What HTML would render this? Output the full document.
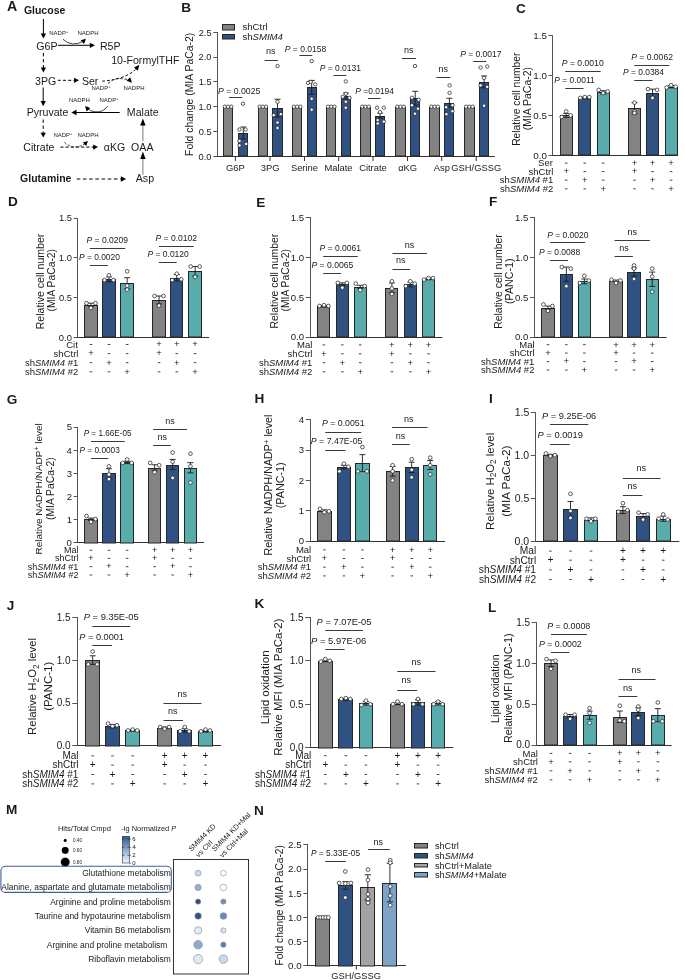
<!DOCTYPE html>
<html><head><meta charset="utf-8"><style>
html,body{margin:0;padding:0;background:#fff;overflow:hidden;}
svg{display:block;will-change:transform;}
text{font-family:'Liberation Sans', sans-serif;fill:#1a1a1a;}
</style></head><body>
<svg width="685" height="980" viewBox="0 0 685 980">
<rect width="685" height="980" fill="#fff"/>
<text x="516.06" y="12.69" font-size="13.60" font-weight="bold">C</text>
<line x1="552.50" y1="35.00" x2="552.50" y2="156.00" stroke="#555" stroke-width="1.0"/>
<line x1="552.00" y1="155.50" x2="678.00" y2="155.50" stroke="#333" stroke-width="1.0"/>
<line x1="548.50" y1="155.50" x2="552.50" y2="155.50" stroke="#555" stroke-width="1.0"/>
<text x="533.22" y="158.58" font-size="9.80">0.0</text>
<line x1="548.50" y1="115.50" x2="552.50" y2="115.50" stroke="#555" stroke-width="1.0"/>
<text x="533.27" y="118.78" font-size="9.80">0.5</text>
<line x1="548.50" y1="75.50" x2="552.50" y2="75.50" stroke="#555" stroke-width="1.0"/>
<text x="533.22" y="78.98" font-size="9.80">1.0</text>
<line x1="548.50" y1="35.50" x2="552.50" y2="35.50" stroke="#555" stroke-width="1.0"/>
<text x="533.27" y="39.13" font-size="9.80">1.5</text>
<rect x="560.50" y="115.50" width="12.00" height="39.50" fill="#838383" stroke="#262626" stroke-width="1.0"/>
<rect x="578.50" y="98.50" width="12.00" height="56.50" fill="#2f5282" stroke="#262626" stroke-width="1.0"/>
<rect x="597.50" y="92.50" width="12.00" height="62.50" fill="#58acab" stroke="#262626" stroke-width="1.0"/>
<rect x="628.50" y="108.50" width="12.00" height="46.50" fill="#838383" stroke="#262626" stroke-width="1.0"/>
<rect x="646.50" y="93.50" width="12.00" height="61.50" fill="#2f5282" stroke="#262626" stroke-width="1.0"/>
<rect x="665.50" y="87.50" width="12.00" height="67.50" fill="#58acab" stroke="#262626" stroke-width="1.0"/>
<line x1="566.20" y1="113.41" x2="566.20" y2="117.39" stroke="#1a1a1a" stroke-width="0.9"/>
<line x1="563.20" y1="113.41" x2="569.20" y2="113.41" stroke="#1a1a1a" stroke-width="0.9"/>
<line x1="563.20" y1="117.39" x2="569.20" y2="117.39" stroke="#1a1a1a" stroke-width="0.9"/>
<circle cx="561.70" cy="116.99" r="1.85" fill="#fff" stroke="#262626" stroke-width="0.75"/>
<circle cx="566.20" cy="111.42" r="1.85" fill="#fff" stroke="#262626" stroke-width="0.75"/>
<circle cx="570.70" cy="115.40" r="1.85" fill="#fff" stroke="#262626" stroke-width="0.75"/>
<line x1="584.80" y1="97.09" x2="584.80" y2="98.68" stroke="#1a1a1a" stroke-width="0.9"/>
<line x1="581.80" y1="97.09" x2="587.80" y2="97.09" stroke="#1a1a1a" stroke-width="0.9"/>
<line x1="581.80" y1="98.68" x2="587.80" y2="98.68" stroke="#1a1a1a" stroke-width="0.9"/>
<circle cx="580.30" cy="97.89" r="1.85" fill="#fff" stroke="#262626" stroke-width="0.75"/>
<circle cx="584.80" cy="97.09" r="1.85" fill="#fff" stroke="#262626" stroke-width="0.75"/>
<circle cx="589.30" cy="97.09" r="1.85" fill="#fff" stroke="#262626" stroke-width="0.75"/>
<line x1="603.20" y1="90.72" x2="603.20" y2="93.91" stroke="#1a1a1a" stroke-width="0.9"/>
<line x1="600.20" y1="90.72" x2="606.20" y2="90.72" stroke="#1a1a1a" stroke-width="0.9"/>
<line x1="600.20" y1="93.91" x2="606.20" y2="93.91" stroke="#1a1a1a" stroke-width="0.9"/>
<circle cx="598.70" cy="89.93" r="1.85" fill="#fff" stroke="#262626" stroke-width="0.75"/>
<circle cx="603.20" cy="93.11" r="1.85" fill="#fff" stroke="#262626" stroke-width="0.75"/>
<circle cx="607.70" cy="91.52" r="1.85" fill="#fff" stroke="#262626" stroke-width="0.75"/>
<line x1="634.50" y1="102.66" x2="634.50" y2="113.81" stroke="#1a1a1a" stroke-width="0.9"/>
<line x1="631.50" y1="102.66" x2="637.50" y2="102.66" stroke="#1a1a1a" stroke-width="0.9"/>
<line x1="631.50" y1="113.81" x2="637.50" y2="113.81" stroke="#1a1a1a" stroke-width="0.9"/>
<circle cx="634.50" cy="102.66" r="1.85" fill="#fff" stroke="#262626" stroke-width="0.75"/>
<circle cx="634.50" cy="111.42" r="1.85" fill="#fff" stroke="#262626" stroke-width="0.75"/>
<circle cx="634.50" cy="113.01" r="1.85" fill="#fff" stroke="#262626" stroke-width="0.75"/>
<line x1="652.50" y1="89.13" x2="652.50" y2="97.09" stroke="#1a1a1a" stroke-width="0.9"/>
<line x1="649.50" y1="89.13" x2="655.50" y2="89.13" stroke="#1a1a1a" stroke-width="0.9"/>
<line x1="649.50" y1="97.09" x2="655.50" y2="97.09" stroke="#1a1a1a" stroke-width="0.9"/>
<circle cx="648.00" cy="89.13" r="1.85" fill="#fff" stroke="#262626" stroke-width="0.75"/>
<circle cx="652.50" cy="97.89" r="1.85" fill="#fff" stroke="#262626" stroke-width="0.75"/>
<circle cx="657.00" cy="89.93" r="1.85" fill="#fff" stroke="#262626" stroke-width="0.75"/>
<line x1="671.10" y1="85.55" x2="671.10" y2="87.94" stroke="#1a1a1a" stroke-width="0.9"/>
<line x1="668.10" y1="85.55" x2="674.10" y2="85.55" stroke="#1a1a1a" stroke-width="0.9"/>
<line x1="668.10" y1="87.94" x2="674.10" y2="87.94" stroke="#1a1a1a" stroke-width="0.9"/>
<circle cx="666.60" cy="87.54" r="1.85" fill="#fff" stroke="#262626" stroke-width="0.75"/>
<circle cx="671.10" cy="85.15" r="1.85" fill="#fff" stroke="#262626" stroke-width="0.75"/>
<circle cx="675.60" cy="86.74" r="1.85" fill="#fff" stroke="#262626" stroke-width="0.75"/>
<text x="561.74" y="65.78" font-size="8.65"><tspan font-style="italic">P</tspan> = 0.0010</text>
<line x1="565.30" y1="71.50" x2="600.60" y2="71.50" stroke="#3a3a3a" stroke-width="1.0"/>
<text x="554.35" y="82.50" font-size="8.42"><tspan font-style="italic">P</tspan> = 0.0011</text>
<line x1="565.30" y1="88.50" x2="583.50" y2="88.50" stroke="#3a3a3a" stroke-width="1.0"/>
<text x="631.14" y="59.77" font-size="8.61"><tspan font-style="italic">P</tspan> = 0.0062</text>
<line x1="634.30" y1="65.50" x2="669.40" y2="65.50" stroke="#3a3a3a" stroke-width="1.0"/>
<text x="622.95" y="75.32" font-size="8.45"><tspan font-style="italic">P</tspan> = 0.0384</text>
<line x1="634.30" y1="80.50" x2="652.40" y2="80.50" stroke="#3a3a3a" stroke-width="1.0"/>
<text x="520.18" y="145.82" font-size="10.30" transform="rotate(-90 520.18 145.82)">Relative cell number</text>
<text x="531.19" y="130.33" font-size="10.46" transform="rotate(-90 531.19 130.33)">(MIA PaCa-2)</text>
<text x="538.07" y="166.08" font-size="9.50">Ser</text>
<line x1="564.90" y1="163.10" x2="567.50" y2="163.10" stroke="#333" stroke-width="0.9"/>
<line x1="583.50" y1="163.10" x2="586.10" y2="163.10" stroke="#333" stroke-width="0.9"/>
<line x1="601.90" y1="163.10" x2="604.50" y2="163.10" stroke="#333" stroke-width="0.9"/>
<text x="631.72" y="165.98" font-size="9.50">+</text>
<text x="649.72" y="165.98" font-size="9.50">+</text>
<text x="668.32" y="165.98" font-size="9.50">+</text>
<text x="528.52" y="174.70" font-size="9.50">shCtrl</text>
<text x="563.42" y="174.48" font-size="9.50">+</text>
<line x1="583.50" y1="171.60" x2="586.10" y2="171.60" stroke="#333" stroke-width="0.9"/>
<line x1="601.90" y1="171.60" x2="604.50" y2="171.60" stroke="#333" stroke-width="0.9"/>
<text x="631.72" y="174.48" font-size="9.50">+</text>
<line x1="651.20" y1="171.60" x2="653.80" y2="171.60" stroke="#333" stroke-width="0.9"/>
<line x1="669.80" y1="171.60" x2="672.40" y2="171.60" stroke="#333" stroke-width="0.9"/>
<text x="499.83" y="183.30" font-size="9.50">sh<tspan font-style="italic">SMIM4</tspan> #1</text>
<line x1="564.90" y1="180.20" x2="567.50" y2="180.20" stroke="#333" stroke-width="0.9"/>
<text x="582.02" y="183.08" font-size="9.50">+</text>
<line x1="601.90" y1="180.20" x2="604.50" y2="180.20" stroke="#333" stroke-width="0.9"/>
<line x1="633.20" y1="180.20" x2="635.80" y2="180.20" stroke="#333" stroke-width="0.9"/>
<text x="649.72" y="183.08" font-size="9.50">+</text>
<line x1="669.80" y1="180.20" x2="672.40" y2="180.20" stroke="#333" stroke-width="0.9"/>
<text x="499.88" y="191.90" font-size="9.50">sh<tspan font-style="italic">SMIM4</tspan> #2</text>
<line x1="564.90" y1="188.80" x2="567.50" y2="188.80" stroke="#333" stroke-width="0.9"/>
<line x1="583.50" y1="188.80" x2="586.10" y2="188.80" stroke="#333" stroke-width="0.9"/>
<text x="600.42" y="191.68" font-size="9.50">+</text>
<line x1="633.20" y1="188.80" x2="635.80" y2="188.80" stroke="#333" stroke-width="0.9"/>
<line x1="651.20" y1="188.80" x2="653.80" y2="188.80" stroke="#333" stroke-width="0.9"/>
<text x="668.32" y="191.68" font-size="9.50">+</text>
<text x="8.12" y="206.49" font-size="13.60" font-weight="bold">D</text>
<line x1="77.50" y1="218.00" x2="77.50" y2="338.00" stroke="#555" stroke-width="1.0"/>
<line x1="77.00" y1="337.50" x2="209.00" y2="337.50" stroke="#333" stroke-width="1.0"/>
<line x1="73.60" y1="337.50" x2="77.50" y2="337.50" stroke="#555" stroke-width="1.0"/>
<text x="58.86" y="340.64" font-size="9.40">0.0</text>
<line x1="73.60" y1="297.50" x2="77.50" y2="297.50" stroke="#555" stroke-width="1.0"/>
<text x="58.91" y="300.84" font-size="9.40">0.5</text>
<line x1="73.60" y1="257.50" x2="77.50" y2="257.50" stroke="#555" stroke-width="1.0"/>
<text x="58.86" y="261.04" font-size="9.40">1.0</text>
<line x1="73.60" y1="218.50" x2="77.50" y2="218.50" stroke="#555" stroke-width="1.0"/>
<text x="58.91" y="221.20" font-size="9.40">1.5</text>
<rect x="84.50" y="305.50" width="13.00" height="31.50" fill="#838383" stroke="#262626" stroke-width="1.0"/>
<rect x="102.50" y="279.50" width="13.00" height="57.50" fill="#2f5282" stroke="#262626" stroke-width="1.0"/>
<rect x="120.50" y="283.50" width="13.00" height="53.50" fill="#58acab" stroke="#262626" stroke-width="1.0"/>
<rect x="152.50" y="300.50" width="13.00" height="36.50" fill="#838383" stroke="#262626" stroke-width="1.0"/>
<rect x="170.50" y="278.50" width="12.00" height="58.50" fill="#2f5282" stroke="#262626" stroke-width="1.0"/>
<rect x="188.50" y="271.50" width="13.00" height="65.50" fill="#58acab" stroke="#262626" stroke-width="1.0"/>
<line x1="90.95" y1="303.17" x2="90.95" y2="306.36" stroke="#1a1a1a" stroke-width="0.9"/>
<line x1="87.95" y1="303.17" x2="93.95" y2="303.17" stroke="#1a1a1a" stroke-width="0.9"/>
<line x1="87.95" y1="306.36" x2="93.95" y2="306.36" stroke="#1a1a1a" stroke-width="0.9"/>
<circle cx="86.45" cy="303.17" r="1.85" fill="#fff" stroke="#262626" stroke-width="0.75"/>
<circle cx="90.95" cy="307.95" r="1.85" fill="#fff" stroke="#262626" stroke-width="0.75"/>
<circle cx="95.45" cy="303.17" r="1.85" fill="#fff" stroke="#262626" stroke-width="0.75"/>
<line x1="108.95" y1="276.90" x2="108.95" y2="281.68" stroke="#1a1a1a" stroke-width="0.9"/>
<line x1="105.95" y1="276.90" x2="111.95" y2="276.90" stroke="#1a1a1a" stroke-width="0.9"/>
<line x1="105.95" y1="281.68" x2="111.95" y2="281.68" stroke="#1a1a1a" stroke-width="0.9"/>
<circle cx="104.45" cy="280.09" r="1.85" fill="#fff" stroke="#262626" stroke-width="0.75"/>
<circle cx="108.95" cy="275.31" r="1.85" fill="#fff" stroke="#262626" stroke-width="0.75"/>
<circle cx="113.45" cy="280.09" r="1.85" fill="#fff" stroke="#262626" stroke-width="0.75"/>
<line x1="127.15" y1="277.70" x2="127.15" y2="288.84" stroke="#1a1a1a" stroke-width="0.9"/>
<line x1="124.15" y1="277.70" x2="130.15" y2="277.70" stroke="#1a1a1a" stroke-width="0.9"/>
<line x1="124.15" y1="288.84" x2="130.15" y2="288.84" stroke="#1a1a1a" stroke-width="0.9"/>
<circle cx="127.15" cy="271.33" r="1.85" fill="#fff" stroke="#262626" stroke-width="0.75"/>
<circle cx="127.15" cy="285.66" r="1.85" fill="#fff" stroke="#262626" stroke-width="0.75"/>
<circle cx="127.15" cy="289.64" r="1.85" fill="#fff" stroke="#262626" stroke-width="0.75"/>
<line x1="159.05" y1="296.01" x2="159.05" y2="303.97" stroke="#1a1a1a" stroke-width="0.9"/>
<line x1="156.05" y1="296.01" x2="162.05" y2="296.01" stroke="#1a1a1a" stroke-width="0.9"/>
<line x1="156.05" y1="303.97" x2="162.05" y2="303.97" stroke="#1a1a1a" stroke-width="0.9"/>
<circle cx="154.55" cy="296.01" r="1.85" fill="#fff" stroke="#262626" stroke-width="0.75"/>
<circle cx="159.05" cy="305.56" r="1.85" fill="#fff" stroke="#262626" stroke-width="0.75"/>
<circle cx="163.55" cy="296.01" r="1.85" fill="#fff" stroke="#262626" stroke-width="0.75"/>
<line x1="176.75" y1="274.52" x2="176.75" y2="280.88" stroke="#1a1a1a" stroke-width="0.9"/>
<line x1="173.75" y1="274.52" x2="179.75" y2="274.52" stroke="#1a1a1a" stroke-width="0.9"/>
<line x1="173.75" y1="280.88" x2="179.75" y2="280.88" stroke="#1a1a1a" stroke-width="0.9"/>
<circle cx="172.25" cy="280.09" r="1.85" fill="#fff" stroke="#262626" stroke-width="0.75"/>
<circle cx="176.75" cy="273.72" r="1.85" fill="#fff" stroke="#262626" stroke-width="0.75"/>
<circle cx="181.25" cy="279.29" r="1.85" fill="#fff" stroke="#262626" stroke-width="0.75"/>
<line x1="195.15" y1="266.56" x2="195.15" y2="276.11" stroke="#1a1a1a" stroke-width="0.9"/>
<line x1="192.15" y1="266.56" x2="198.15" y2="266.56" stroke="#1a1a1a" stroke-width="0.9"/>
<line x1="192.15" y1="276.11" x2="198.15" y2="276.11" stroke="#1a1a1a" stroke-width="0.9"/>
<circle cx="190.65" cy="266.56" r="1.85" fill="#fff" stroke="#262626" stroke-width="0.75"/>
<circle cx="195.15" cy="276.90" r="1.85" fill="#fff" stroke="#262626" stroke-width="0.75"/>
<circle cx="199.65" cy="266.56" r="1.85" fill="#fff" stroke="#262626" stroke-width="0.75"/>
<text x="86.54" y="242.75" font-size="8.56"><tspan font-style="italic">P</tspan> = 0.0209</text>
<line x1="89.80" y1="248.50" x2="125.20" y2="248.50" stroke="#3a3a3a" stroke-width="1.0"/>
<text x="78.95" y="259.71" font-size="8.44"><tspan font-style="italic">P</tspan> = 0.0020</text>
<line x1="89.80" y1="265.50" x2="107.80" y2="265.50" stroke="#3a3a3a" stroke-width="1.0"/>
<text x="155.54" y="241.35" font-size="8.55"><tspan font-style="italic">P</tspan> = 0.0102</text>
<line x1="158.90" y1="246.50" x2="193.60" y2="246.50" stroke="#3a3a3a" stroke-width="1.0"/>
<text x="147.44" y="256.63" font-size="8.50"><tspan font-style="italic">P</tspan> = 0.0120</text>
<line x1="158.90" y1="262.50" x2="176.70" y2="262.50" stroke="#3a3a3a" stroke-width="1.0"/>
<text x="43.77" y="329.24" font-size="10.56" transform="rotate(-90 43.77 329.24)">Relative cell number</text>
<text x="54.66" y="311.52" font-size="10.33" transform="rotate(-90 54.66 311.52)">(MIA PaCa-2)</text>
<text x="66.26" y="347.60" font-size="9.50">Cit</text>
<line x1="89.65" y1="344.50" x2="92.25" y2="344.50" stroke="#333" stroke-width="0.9"/>
<line x1="107.65" y1="344.50" x2="110.25" y2="344.50" stroke="#333" stroke-width="0.9"/>
<line x1="125.85" y1="344.50" x2="128.45" y2="344.50" stroke="#333" stroke-width="0.9"/>
<text x="156.27" y="347.38" font-size="9.50">+</text>
<text x="173.97" y="347.38" font-size="9.50">+</text>
<text x="192.37" y="347.38" font-size="9.50">+</text>
<text x="53.62" y="356.70" font-size="9.50">shCtrl</text>
<text x="88.17" y="356.48" font-size="9.50">+</text>
<line x1="107.65" y1="353.60" x2="110.25" y2="353.60" stroke="#333" stroke-width="0.9"/>
<line x1="125.85" y1="353.60" x2="128.45" y2="353.60" stroke="#333" stroke-width="0.9"/>
<text x="156.27" y="356.48" font-size="9.50">+</text>
<line x1="175.45" y1="353.60" x2="178.05" y2="353.60" stroke="#333" stroke-width="0.9"/>
<line x1="193.85" y1="353.60" x2="196.45" y2="353.60" stroke="#333" stroke-width="0.9"/>
<text x="24.93" y="365.80" font-size="9.50">sh<tspan font-style="italic">SMIM4</tspan> #1</text>
<line x1="89.65" y1="362.70" x2="92.25" y2="362.70" stroke="#333" stroke-width="0.9"/>
<text x="106.17" y="365.58" font-size="9.50">+</text>
<line x1="125.85" y1="362.70" x2="128.45" y2="362.70" stroke="#333" stroke-width="0.9"/>
<line x1="157.75" y1="362.70" x2="160.35" y2="362.70" stroke="#333" stroke-width="0.9"/>
<text x="173.97" y="365.58" font-size="9.50">+</text>
<line x1="193.85" y1="362.70" x2="196.45" y2="362.70" stroke="#333" stroke-width="0.9"/>
<text x="24.98" y="374.90" font-size="9.50">sh<tspan font-style="italic">SMIM4</tspan> #2</text>
<line x1="89.65" y1="371.80" x2="92.25" y2="371.80" stroke="#333" stroke-width="0.9"/>
<line x1="107.65" y1="371.80" x2="110.25" y2="371.80" stroke="#333" stroke-width="0.9"/>
<text x="124.37" y="374.68" font-size="9.50">+</text>
<line x1="157.75" y1="371.80" x2="160.35" y2="371.80" stroke="#333" stroke-width="0.9"/>
<line x1="175.45" y1="371.80" x2="178.05" y2="371.80" stroke="#333" stroke-width="0.9"/>
<text x="192.37" y="374.68" font-size="9.50">+</text>
<text x="256.32" y="207.19" font-size="13.60" font-weight="bold">E</text>
<line x1="310.50" y1="217.00" x2="310.50" y2="338.00" stroke="#555" stroke-width="1.0"/>
<line x1="310.00" y1="337.50" x2="442.30" y2="337.50" stroke="#333" stroke-width="1.0"/>
<line x1="305.70" y1="337.50" x2="310.50" y2="337.50" stroke="#555" stroke-width="1.0"/>
<text x="290.69" y="340.31" font-size="9.60">0.0</text>
<line x1="305.70" y1="297.50" x2="310.50" y2="297.50" stroke="#555" stroke-width="1.0"/>
<text x="290.74" y="300.51" font-size="9.60">0.5</text>
<line x1="305.70" y1="257.50" x2="310.50" y2="257.50" stroke="#555" stroke-width="1.0"/>
<text x="290.69" y="260.71" font-size="9.60">1.0</text>
<line x1="305.70" y1="217.50" x2="310.50" y2="217.50" stroke="#555" stroke-width="1.0"/>
<text x="290.74" y="220.86" font-size="9.60">1.5</text>
<rect x="317.50" y="306.50" width="12.00" height="30.50" fill="#838383" stroke="#262626" stroke-width="1.0"/>
<rect x="336.50" y="284.50" width="12.00" height="52.50" fill="#2f5282" stroke="#262626" stroke-width="1.0"/>
<rect x="354.50" y="287.50" width="12.00" height="49.50" fill="#58acab" stroke="#262626" stroke-width="1.0"/>
<rect x="385.50" y="288.50" width="12.00" height="48.50" fill="#838383" stroke="#262626" stroke-width="1.0"/>
<rect x="404.50" y="284.50" width="12.00" height="52.50" fill="#2f5282" stroke="#262626" stroke-width="1.0"/>
<rect x="422.50" y="279.50" width="12.00" height="57.50" fill="#58acab" stroke="#262626" stroke-width="1.0"/>
<line x1="323.90" y1="305.56" x2="323.90" y2="307.15" stroke="#1a1a1a" stroke-width="0.9"/>
<line x1="320.90" y1="305.56" x2="326.90" y2="305.56" stroke="#1a1a1a" stroke-width="0.9"/>
<line x1="320.90" y1="307.15" x2="326.90" y2="307.15" stroke="#1a1a1a" stroke-width="0.9"/>
<circle cx="319.40" cy="305.96" r="1.85" fill="#fff" stroke="#262626" stroke-width="0.75"/>
<circle cx="323.90" cy="305.16" r="1.85" fill="#fff" stroke="#262626" stroke-width="0.75"/>
<circle cx="328.40" cy="305.96" r="1.85" fill="#fff" stroke="#262626" stroke-width="0.75"/>
<line x1="342.30" y1="282.87" x2="342.30" y2="286.06" stroke="#1a1a1a" stroke-width="0.9"/>
<line x1="339.30" y1="282.87" x2="345.30" y2="282.87" stroke="#1a1a1a" stroke-width="0.9"/>
<line x1="339.30" y1="286.06" x2="345.30" y2="286.06" stroke="#1a1a1a" stroke-width="0.9"/>
<circle cx="337.80" cy="282.87" r="1.85" fill="#fff" stroke="#262626" stroke-width="0.75"/>
<circle cx="342.30" cy="287.65" r="1.85" fill="#fff" stroke="#262626" stroke-width="0.75"/>
<circle cx="346.80" cy="282.87" r="1.85" fill="#fff" stroke="#262626" stroke-width="0.75"/>
<line x1="360.20" y1="285.26" x2="360.20" y2="288.44" stroke="#1a1a1a" stroke-width="0.9"/>
<line x1="357.20" y1="285.26" x2="363.20" y2="285.26" stroke="#1a1a1a" stroke-width="0.9"/>
<line x1="357.20" y1="288.44" x2="363.20" y2="288.44" stroke="#1a1a1a" stroke-width="0.9"/>
<circle cx="355.70" cy="283.67" r="1.85" fill="#fff" stroke="#262626" stroke-width="0.75"/>
<circle cx="360.20" cy="290.04" r="1.85" fill="#fff" stroke="#262626" stroke-width="0.75"/>
<circle cx="364.70" cy="286.06" r="1.85" fill="#fff" stroke="#262626" stroke-width="0.75"/>
<line x1="391.90" y1="282.87" x2="391.90" y2="292.42" stroke="#1a1a1a" stroke-width="0.9"/>
<line x1="388.90" y1="282.87" x2="394.90" y2="282.87" stroke="#1a1a1a" stroke-width="0.9"/>
<line x1="388.90" y1="292.42" x2="394.90" y2="292.42" stroke="#1a1a1a" stroke-width="0.9"/>
<circle cx="391.90" cy="281.28" r="1.85" fill="#fff" stroke="#262626" stroke-width="0.75"/>
<circle cx="391.90" cy="288.44" r="1.85" fill="#fff" stroke="#262626" stroke-width="0.75"/>
<circle cx="391.90" cy="294.02" r="1.85" fill="#fff" stroke="#262626" stroke-width="0.75"/>
<line x1="410.30" y1="282.08" x2="410.30" y2="286.85" stroke="#1a1a1a" stroke-width="0.9"/>
<line x1="407.30" y1="282.08" x2="413.30" y2="282.08" stroke="#1a1a1a" stroke-width="0.9"/>
<line x1="407.30" y1="286.85" x2="413.30" y2="286.85" stroke="#1a1a1a" stroke-width="0.9"/>
<circle cx="405.80" cy="286.06" r="1.85" fill="#fff" stroke="#262626" stroke-width="0.75"/>
<circle cx="410.30" cy="281.28" r="1.85" fill="#fff" stroke="#262626" stroke-width="0.75"/>
<circle cx="414.80" cy="283.67" r="1.85" fill="#fff" stroke="#262626" stroke-width="0.75"/>
<line x1="428.50" y1="278.10" x2="428.50" y2="279.69" stroke="#1a1a1a" stroke-width="0.9"/>
<line x1="425.50" y1="278.10" x2="431.50" y2="278.10" stroke="#1a1a1a" stroke-width="0.9"/>
<line x1="425.50" y1="279.69" x2="431.50" y2="279.69" stroke="#1a1a1a" stroke-width="0.9"/>
<circle cx="424.00" cy="279.69" r="1.85" fill="#fff" stroke="#262626" stroke-width="0.75"/>
<circle cx="428.50" cy="278.10" r="1.85" fill="#fff" stroke="#262626" stroke-width="0.75"/>
<circle cx="433.00" cy="278.10" r="1.85" fill="#fff" stroke="#262626" stroke-width="0.75"/>
<text x="319.44" y="250.75" font-size="8.56"><tspan font-style="italic">P</tspan> = 0.0061</text>
<line x1="323.20" y1="256.50" x2="357.70" y2="256.50" stroke="#3a3a3a" stroke-width="1.0"/>
<text x="311.44" y="267.97" font-size="8.61"><tspan font-style="italic">P</tspan> = 0.0065</text>
<line x1="323.20" y1="273.50" x2="341.10" y2="273.50" stroke="#3a3a3a" stroke-width="1.0"/>
<text x="404.72" y="247.69" font-size="9.00">ns</text>
<line x1="392.50" y1="253.50" x2="427.00" y2="253.50" stroke="#3a3a3a" stroke-width="1.0"/>
<text x="396.12" y="263.38" font-size="9.00">ns</text>
<line x1="392.50" y1="269.50" x2="410.20" y2="269.50" stroke="#3a3a3a" stroke-width="1.0"/>
<text x="277.75" y="328.54" font-size="10.48" transform="rotate(-90 277.75 328.54)">Relative cell number</text>
<text x="288.66" y="311.52" font-size="10.33" transform="rotate(-90 288.66 311.52)">(MIA PaCa-2)</text>
<text x="297.12" y="348.00" font-size="9.50">Mal</text>
<line x1="322.60" y1="344.90" x2="325.20" y2="344.90" stroke="#333" stroke-width="0.9"/>
<line x1="341.00" y1="344.90" x2="343.60" y2="344.90" stroke="#333" stroke-width="0.9"/>
<line x1="358.90" y1="344.90" x2="361.50" y2="344.90" stroke="#333" stroke-width="0.9"/>
<text x="389.12" y="347.78" font-size="9.50">+</text>
<text x="407.52" y="347.78" font-size="9.50">+</text>
<text x="425.72" y="347.78" font-size="9.50">+</text>
<text x="287.62" y="356.90" font-size="9.50">shCtrl</text>
<text x="321.12" y="356.68" font-size="9.50">+</text>
<line x1="341.00" y1="353.80" x2="343.60" y2="353.80" stroke="#333" stroke-width="0.9"/>
<line x1="358.90" y1="353.80" x2="361.50" y2="353.80" stroke="#333" stroke-width="0.9"/>
<text x="389.12" y="356.68" font-size="9.50">+</text>
<line x1="409.00" y1="353.80" x2="411.60" y2="353.80" stroke="#333" stroke-width="0.9"/>
<line x1="427.20" y1="353.80" x2="429.80" y2="353.80" stroke="#333" stroke-width="0.9"/>
<text x="258.93" y="365.80" font-size="9.50">sh<tspan font-style="italic">SMIM4</tspan> #1</text>
<line x1="322.60" y1="362.70" x2="325.20" y2="362.70" stroke="#333" stroke-width="0.9"/>
<text x="339.52" y="365.58" font-size="9.50">+</text>
<line x1="358.90" y1="362.70" x2="361.50" y2="362.70" stroke="#333" stroke-width="0.9"/>
<line x1="390.60" y1="362.70" x2="393.20" y2="362.70" stroke="#333" stroke-width="0.9"/>
<text x="407.52" y="365.58" font-size="9.50">+</text>
<line x1="427.20" y1="362.70" x2="429.80" y2="362.70" stroke="#333" stroke-width="0.9"/>
<text x="258.98" y="374.90" font-size="9.50">sh<tspan font-style="italic">SMIM4</tspan> #2</text>
<line x1="322.60" y1="371.80" x2="325.20" y2="371.80" stroke="#333" stroke-width="0.9"/>
<line x1="341.00" y1="371.80" x2="343.60" y2="371.80" stroke="#333" stroke-width="0.9"/>
<text x="357.42" y="374.68" font-size="9.50">+</text>
<line x1="390.60" y1="371.80" x2="393.20" y2="371.80" stroke="#333" stroke-width="0.9"/>
<line x1="409.00" y1="371.80" x2="411.60" y2="371.80" stroke="#333" stroke-width="0.9"/>
<text x="425.72" y="374.68" font-size="9.50">+</text>
<text x="488.92" y="206.49" font-size="13.60" font-weight="bold">F</text>
<line x1="534.50" y1="217.00" x2="534.50" y2="338.00" stroke="#555" stroke-width="1.0"/>
<line x1="534.00" y1="337.50" x2="666.60" y2="337.50" stroke="#333" stroke-width="1.0"/>
<line x1="530.00" y1="337.50" x2="534.50" y2="337.50" stroke="#555" stroke-width="1.0"/>
<text x="514.99" y="340.41" font-size="9.60">0.0</text>
<line x1="530.00" y1="297.50" x2="534.50" y2="297.50" stroke="#555" stroke-width="1.0"/>
<text x="515.04" y="300.61" font-size="9.60">0.5</text>
<line x1="530.00" y1="257.50" x2="534.50" y2="257.50" stroke="#555" stroke-width="1.0"/>
<text x="514.99" y="260.81" font-size="9.60">1.0</text>
<line x1="530.00" y1="217.50" x2="534.50" y2="217.50" stroke="#555" stroke-width="1.0"/>
<text x="515.04" y="220.96" font-size="9.60">1.5</text>
<rect x="541.50" y="308.50" width="13.00" height="28.50" fill="#838383" stroke="#262626" stroke-width="1.0"/>
<rect x="560.50" y="274.50" width="12.00" height="62.50" fill="#2f5282" stroke="#262626" stroke-width="1.0"/>
<rect x="578.50" y="281.50" width="12.00" height="55.50" fill="#58acab" stroke="#262626" stroke-width="1.0"/>
<rect x="609.50" y="281.50" width="13.00" height="55.50" fill="#838383" stroke="#262626" stroke-width="1.0"/>
<rect x="627.50" y="272.50" width="13.00" height="64.50" fill="#2f5282" stroke="#262626" stroke-width="1.0"/>
<rect x="646.50" y="279.50" width="12.00" height="57.50" fill="#58acab" stroke="#262626" stroke-width="1.0"/>
<line x1="547.95" y1="306.06" x2="547.95" y2="309.24" stroke="#1a1a1a" stroke-width="0.9"/>
<line x1="544.95" y1="306.06" x2="550.95" y2="306.06" stroke="#1a1a1a" stroke-width="0.9"/>
<line x1="544.95" y1="309.24" x2="550.95" y2="309.24" stroke="#1a1a1a" stroke-width="0.9"/>
<circle cx="543.45" cy="304.46" r="1.85" fill="#fff" stroke="#262626" stroke-width="0.75"/>
<circle cx="547.95" cy="310.83" r="1.85" fill="#fff" stroke="#262626" stroke-width="0.75"/>
<circle cx="552.45" cy="306.06" r="1.85" fill="#fff" stroke="#262626" stroke-width="0.75"/>
<line x1="566.35" y1="267.05" x2="566.35" y2="281.38" stroke="#1a1a1a" stroke-width="0.9"/>
<line x1="563.35" y1="267.05" x2="569.35" y2="267.05" stroke="#1a1a1a" stroke-width="0.9"/>
<line x1="563.35" y1="281.38" x2="569.35" y2="281.38" stroke="#1a1a1a" stroke-width="0.9"/>
<circle cx="561.85" cy="267.05" r="1.85" fill="#fff" stroke="#262626" stroke-width="0.75"/>
<circle cx="566.35" cy="286.16" r="1.85" fill="#fff" stroke="#262626" stroke-width="0.75"/>
<circle cx="570.85" cy="268.64" r="1.85" fill="#fff" stroke="#262626" stroke-width="0.75"/>
<line x1="584.35" y1="278.99" x2="584.35" y2="283.77" stroke="#1a1a1a" stroke-width="0.9"/>
<line x1="581.35" y1="278.99" x2="587.35" y2="278.99" stroke="#1a1a1a" stroke-width="0.9"/>
<line x1="581.35" y1="283.77" x2="587.35" y2="283.77" stroke="#1a1a1a" stroke-width="0.9"/>
<circle cx="579.85" cy="282.97" r="1.85" fill="#fff" stroke="#262626" stroke-width="0.75"/>
<circle cx="584.35" cy="275.81" r="1.85" fill="#fff" stroke="#262626" stroke-width="0.75"/>
<circle cx="588.85" cy="280.58" r="1.85" fill="#fff" stroke="#262626" stroke-width="0.75"/>
<line x1="616.05" y1="280.03" x2="616.05" y2="281.62" stroke="#1a1a1a" stroke-width="0.9"/>
<line x1="613.05" y1="280.03" x2="619.05" y2="280.03" stroke="#1a1a1a" stroke-width="0.9"/>
<line x1="613.05" y1="281.62" x2="619.05" y2="281.62" stroke="#1a1a1a" stroke-width="0.9"/>
<circle cx="611.55" cy="279.79" r="1.85" fill="#fff" stroke="#262626" stroke-width="0.75"/>
<circle cx="616.05" cy="282.97" r="1.85" fill="#fff" stroke="#262626" stroke-width="0.75"/>
<circle cx="620.55" cy="280.58" r="1.85" fill="#fff" stroke="#262626" stroke-width="0.75"/>
<line x1="634.05" y1="268.01" x2="634.05" y2="275.97" stroke="#1a1a1a" stroke-width="0.9"/>
<line x1="631.05" y1="268.01" x2="637.05" y2="268.01" stroke="#1a1a1a" stroke-width="0.9"/>
<line x1="631.05" y1="275.97" x2="637.05" y2="275.97" stroke="#1a1a1a" stroke-width="0.9"/>
<circle cx="634.05" cy="265.46" r="1.85" fill="#fff" stroke="#262626" stroke-width="0.75"/>
<circle cx="634.05" cy="268.64" r="1.85" fill="#fff" stroke="#262626" stroke-width="0.75"/>
<circle cx="634.05" cy="278.99" r="1.85" fill="#fff" stroke="#262626" stroke-width="0.75"/>
<line x1="652.25" y1="272.07" x2="652.25" y2="286.39" stroke="#1a1a1a" stroke-width="0.9"/>
<line x1="649.25" y1="272.07" x2="655.25" y2="272.07" stroke="#1a1a1a" stroke-width="0.9"/>
<line x1="649.25" y1="286.39" x2="655.25" y2="286.39" stroke="#1a1a1a" stroke-width="0.9"/>
<circle cx="652.25" cy="268.64" r="1.85" fill="#fff" stroke="#262626" stroke-width="0.75"/>
<circle cx="652.25" cy="276.60" r="1.85" fill="#fff" stroke="#262626" stroke-width="0.75"/>
<circle cx="652.25" cy="291.73" r="1.85" fill="#fff" stroke="#262626" stroke-width="0.75"/>
<text x="547.14" y="237.64" font-size="8.52"><tspan font-style="italic">P</tspan> = 0.0020</text>
<line x1="550.00" y1="242.50" x2="585.10" y2="242.50" stroke="#3a3a3a" stroke-width="1.0"/>
<text x="538.95" y="254.63" font-size="8.49"><tspan font-style="italic">P</tspan> = 0.0088</text>
<line x1="550.00" y1="260.50" x2="568.10" y2="260.50" stroke="#3a3a3a" stroke-width="1.0"/>
<text x="627.42" y="235.08" font-size="9.00">ns</text>
<line x1="614.50" y1="240.50" x2="649.80" y2="240.50" stroke="#3a3a3a" stroke-width="1.0"/>
<text x="619.22" y="250.58" font-size="9.00">ns</text>
<line x1="614.50" y1="256.50" x2="632.90" y2="256.50" stroke="#3a3a3a" stroke-width="1.0"/>
<text x="502.14" y="328.84" font-size="10.46" transform="rotate(-90 502.14 328.84)">Relative cell number</text>
<text x="512.56" y="303.94" font-size="10.71" transform="rotate(-90 512.56 303.94)">(PANC-1)</text>
<text x="519.22" y="347.80" font-size="9.50">Mal</text>
<line x1="546.65" y1="344.70" x2="549.25" y2="344.70" stroke="#333" stroke-width="0.9"/>
<line x1="565.05" y1="344.70" x2="567.65" y2="344.70" stroke="#333" stroke-width="0.9"/>
<line x1="583.05" y1="344.70" x2="585.65" y2="344.70" stroke="#333" stroke-width="0.9"/>
<text x="613.27" y="347.58" font-size="9.50">+</text>
<text x="631.27" y="347.58" font-size="9.50">+</text>
<text x="649.47" y="347.58" font-size="9.50">+</text>
<text x="509.72" y="356.20" font-size="9.50">shCtrl</text>
<text x="545.17" y="355.98" font-size="9.50">+</text>
<line x1="565.05" y1="353.10" x2="567.65" y2="353.10" stroke="#333" stroke-width="0.9"/>
<line x1="583.05" y1="353.10" x2="585.65" y2="353.10" stroke="#333" stroke-width="0.9"/>
<text x="613.27" y="355.98" font-size="9.50">+</text>
<line x1="632.75" y1="353.10" x2="635.35" y2="353.10" stroke="#333" stroke-width="0.9"/>
<line x1="650.95" y1="353.10" x2="653.55" y2="353.10" stroke="#333" stroke-width="0.9"/>
<text x="481.03" y="364.70" font-size="9.50">sh<tspan font-style="italic">SMIM4</tspan> #1</text>
<line x1="546.65" y1="361.60" x2="549.25" y2="361.60" stroke="#333" stroke-width="0.9"/>
<text x="563.57" y="364.48" font-size="9.50">+</text>
<line x1="583.05" y1="361.60" x2="585.65" y2="361.60" stroke="#333" stroke-width="0.9"/>
<line x1="614.75" y1="361.60" x2="617.35" y2="361.60" stroke="#333" stroke-width="0.9"/>
<text x="631.27" y="364.48" font-size="9.50">+</text>
<line x1="650.95" y1="361.60" x2="653.55" y2="361.60" stroke="#333" stroke-width="0.9"/>
<text x="481.08" y="373.20" font-size="9.50">sh<tspan font-style="italic">SMIM4</tspan> #2</text>
<line x1="546.65" y1="370.10" x2="549.25" y2="370.10" stroke="#333" stroke-width="0.9"/>
<line x1="565.05" y1="370.10" x2="567.65" y2="370.10" stroke="#333" stroke-width="0.9"/>
<text x="581.57" y="372.98" font-size="9.50">+</text>
<line x1="614.75" y1="370.10" x2="617.35" y2="370.10" stroke="#333" stroke-width="0.9"/>
<line x1="632.75" y1="370.10" x2="635.35" y2="370.10" stroke="#333" stroke-width="0.9"/>
<text x="649.47" y="372.98" font-size="9.50">+</text>
<text x="6.66" y="403.89" font-size="13.60" font-weight="bold">G</text>
<line x1="77.50" y1="427.00" x2="77.50" y2="543.00" stroke="#555" stroke-width="1.0"/>
<line x1="77.00" y1="542.50" x2="203.90" y2="542.50" stroke="#333" stroke-width="1.0"/>
<line x1="73.60" y1="542.50" x2="77.50" y2="542.50" stroke="#555" stroke-width="1.0"/>
<text x="66.61" y="545.91" font-size="9.60">0</text>
<line x1="73.60" y1="519.50" x2="77.50" y2="519.50" stroke="#555" stroke-width="1.0"/>
<text x="66.70" y="522.81" font-size="9.60">1</text>
<line x1="73.60" y1="496.50" x2="77.50" y2="496.50" stroke="#555" stroke-width="1.0"/>
<text x="66.75" y="499.76" font-size="9.60">2</text>
<line x1="73.60" y1="473.50" x2="77.50" y2="473.50" stroke="#555" stroke-width="1.0"/>
<text x="66.66" y="476.61" font-size="9.60">3</text>
<line x1="73.60" y1="450.50" x2="77.50" y2="450.50" stroke="#555" stroke-width="1.0"/>
<text x="66.56" y="453.51" font-size="9.60">4</text>
<line x1="73.60" y1="427.50" x2="77.50" y2="427.50" stroke="#555" stroke-width="1.0"/>
<text x="66.66" y="430.36" font-size="9.60">5</text>
<rect x="84.50" y="519.50" width="13.00" height="23.50" fill="#838383" stroke="#262626" stroke-width="1.0"/>
<rect x="102.50" y="473.50" width="13.00" height="69.50" fill="#2f5282" stroke="#262626" stroke-width="1.0"/>
<rect x="120.50" y="462.50" width="13.00" height="80.50" fill="#58acab" stroke="#262626" stroke-width="1.0"/>
<rect x="148.50" y="468.50" width="12.00" height="74.50" fill="#838383" stroke="#262626" stroke-width="1.0"/>
<rect x="166.50" y="465.50" width="12.00" height="77.50" fill="#2f5282" stroke="#262626" stroke-width="1.0"/>
<rect x="184.50" y="468.50" width="12.00" height="74.50" fill="#58acab" stroke="#262626" stroke-width="1.0"/>
<line x1="90.95" y1="518.11" x2="90.95" y2="520.42" stroke="#1a1a1a" stroke-width="0.9"/>
<line x1="87.95" y1="518.11" x2="93.95" y2="518.11" stroke="#1a1a1a" stroke-width="0.9"/>
<line x1="87.95" y1="520.42" x2="93.95" y2="520.42" stroke="#1a1a1a" stroke-width="0.9"/>
<circle cx="86.45" cy="516.03" r="1.85" fill="#fff" stroke="#262626" stroke-width="0.75"/>
<circle cx="90.95" cy="521.81" r="1.85" fill="#fff" stroke="#262626" stroke-width="0.75"/>
<circle cx="95.45" cy="519.04" r="1.85" fill="#fff" stroke="#262626" stroke-width="0.75"/>
<line x1="108.95" y1="468.68" x2="108.95" y2="477.92" stroke="#1a1a1a" stroke-width="0.9"/>
<line x1="105.95" y1="468.68" x2="111.95" y2="468.68" stroke="#1a1a1a" stroke-width="0.9"/>
<line x1="105.95" y1="477.92" x2="111.95" y2="477.92" stroke="#1a1a1a" stroke-width="0.9"/>
<circle cx="108.95" cy="466.37" r="1.85" fill="#fff" stroke="#262626" stroke-width="0.75"/>
<circle cx="108.95" cy="474.46" r="1.85" fill="#fff" stroke="#262626" stroke-width="0.75"/>
<circle cx="108.95" cy="479.08" r="1.85" fill="#fff" stroke="#262626" stroke-width="0.75"/>
<line x1="127.15" y1="461.29" x2="127.15" y2="463.60" stroke="#1a1a1a" stroke-width="0.9"/>
<line x1="124.15" y1="461.29" x2="130.15" y2="461.29" stroke="#1a1a1a" stroke-width="0.9"/>
<line x1="124.15" y1="463.60" x2="130.15" y2="463.60" stroke="#1a1a1a" stroke-width="0.9"/>
<circle cx="122.65" cy="462.91" r="1.85" fill="#fff" stroke="#262626" stroke-width="0.75"/>
<circle cx="127.15" cy="459.44" r="1.85" fill="#fff" stroke="#262626" stroke-width="0.75"/>
<circle cx="131.65" cy="462.91" r="1.85" fill="#fff" stroke="#262626" stroke-width="0.75"/>
<line x1="154.65" y1="464.75" x2="154.65" y2="470.30" stroke="#1a1a1a" stroke-width="0.9"/>
<line x1="151.65" y1="464.75" x2="157.65" y2="464.75" stroke="#1a1a1a" stroke-width="0.9"/>
<line x1="151.65" y1="470.30" x2="157.65" y2="470.30" stroke="#1a1a1a" stroke-width="0.9"/>
<circle cx="150.15" cy="462.91" r="1.85" fill="#fff" stroke="#262626" stroke-width="0.75"/>
<circle cx="154.65" cy="472.15" r="1.85" fill="#fff" stroke="#262626" stroke-width="0.75"/>
<circle cx="159.15" cy="465.22" r="1.85" fill="#fff" stroke="#262626" stroke-width="0.75"/>
<line x1="172.65" y1="459.44" x2="172.65" y2="469.60" stroke="#1a1a1a" stroke-width="0.9"/>
<line x1="169.65" y1="459.44" x2="175.65" y2="459.44" stroke="#1a1a1a" stroke-width="0.9"/>
<line x1="169.65" y1="469.60" x2="175.65" y2="469.60" stroke="#1a1a1a" stroke-width="0.9"/>
<circle cx="172.65" cy="452.51" r="1.85" fill="#fff" stroke="#262626" stroke-width="0.75"/>
<circle cx="172.65" cy="461.75" r="1.85" fill="#fff" stroke="#262626" stroke-width="0.75"/>
<circle cx="172.65" cy="477.92" r="1.85" fill="#fff" stroke="#262626" stroke-width="0.75"/>
<line x1="190.45" y1="462.67" x2="190.45" y2="472.84" stroke="#1a1a1a" stroke-width="0.9"/>
<line x1="187.45" y1="462.67" x2="193.45" y2="462.67" stroke="#1a1a1a" stroke-width="0.9"/>
<line x1="187.45" y1="472.84" x2="193.45" y2="472.84" stroke="#1a1a1a" stroke-width="0.9"/>
<circle cx="190.45" cy="453.67" r="1.85" fill="#fff" stroke="#262626" stroke-width="0.75"/>
<circle cx="190.45" cy="466.37" r="1.85" fill="#fff" stroke="#262626" stroke-width="0.75"/>
<circle cx="190.45" cy="482.54" r="1.85" fill="#fff" stroke="#262626" stroke-width="0.75"/>
<text x="83.65" y="435.92" font-size="8.18"><tspan font-style="italic">P</tspan> = 1.66E-05</text>
<line x1="91.00" y1="441.50" x2="124.60" y2="441.50" stroke="#3a3a3a" stroke-width="1.0"/>
<text x="79.55" y="452.76" font-size="8.28"><tspan font-style="italic">P</tspan> = 0.0003</text>
<line x1="91.00" y1="458.50" x2="108.40" y2="458.50" stroke="#3a3a3a" stroke-width="1.0"/>
<text x="165.22" y="424.28" font-size="9.00">ns</text>
<line x1="153.20" y1="429.50" x2="187.10" y2="429.50" stroke="#3a3a3a" stroke-width="1.0"/>
<text x="157.52" y="439.99" font-size="9.00">ns</text>
<line x1="153.20" y1="445.50" x2="170.80" y2="445.50" stroke="#3a3a3a" stroke-width="1.0"/>
<text x="42.41" y="554.40" font-size="9.95" transform="rotate(-90 42.41 554.40)">Relative NADPH/NADP<tspan font-size="7.16" dy="-3.58">+</tspan><tspan dy="3.58"> level</tspan></text>
<text x="53.56" y="520.02" font-size="10.35" transform="rotate(-90 53.56 520.02)">(MIA PaCa-2)</text>
<text x="64.00" y="553.22" font-size="9.00">Mal</text>
<line x1="89.65" y1="550.30" x2="92.25" y2="550.30" stroke="#333" stroke-width="0.9"/>
<line x1="107.65" y1="550.30" x2="110.25" y2="550.30" stroke="#333" stroke-width="0.9"/>
<line x1="125.85" y1="550.30" x2="128.45" y2="550.30" stroke="#333" stroke-width="0.9"/>
<text x="152.02" y="553.01" font-size="9.00">+</text>
<text x="170.02" y="553.01" font-size="9.00">+</text>
<text x="187.82" y="553.01" font-size="9.00">+</text>
<text x="55.00" y="561.32" font-size="9.00">shCtrl</text>
<text x="88.32" y="561.12" font-size="9.00">+</text>
<line x1="107.65" y1="558.40" x2="110.25" y2="558.40" stroke="#333" stroke-width="0.9"/>
<line x1="125.85" y1="558.40" x2="128.45" y2="558.40" stroke="#333" stroke-width="0.9"/>
<text x="152.02" y="561.12" font-size="9.00">+</text>
<line x1="171.35" y1="558.40" x2="173.95" y2="558.40" stroke="#333" stroke-width="0.9"/>
<line x1="189.15" y1="558.40" x2="191.75" y2="558.40" stroke="#333" stroke-width="0.9"/>
<text x="27.82" y="569.62" font-size="9.00">sh<tspan font-style="italic">SMIM4</tspan> #1</text>
<line x1="89.65" y1="566.70" x2="92.25" y2="566.70" stroke="#333" stroke-width="0.9"/>
<text x="106.32" y="569.41" font-size="9.00">+</text>
<line x1="125.85" y1="566.70" x2="128.45" y2="566.70" stroke="#333" stroke-width="0.9"/>
<line x1="153.35" y1="566.70" x2="155.95" y2="566.70" stroke="#333" stroke-width="0.9"/>
<text x="170.02" y="569.41" font-size="9.00">+</text>
<line x1="189.15" y1="566.70" x2="191.75" y2="566.70" stroke="#333" stroke-width="0.9"/>
<text x="27.86" y="577.92" font-size="9.00">sh<tspan font-style="italic">SMIM4</tspan> #2</text>
<line x1="89.65" y1="575.00" x2="92.25" y2="575.00" stroke="#333" stroke-width="0.9"/>
<line x1="107.65" y1="575.00" x2="110.25" y2="575.00" stroke="#333" stroke-width="0.9"/>
<text x="124.52" y="577.72" font-size="9.00">+</text>
<line x1="153.35" y1="575.00" x2="155.95" y2="575.00" stroke="#333" stroke-width="0.9"/>
<line x1="171.35" y1="575.00" x2="173.95" y2="575.00" stroke="#333" stroke-width="0.9"/>
<text x="187.82" y="577.72" font-size="9.00">+</text>
<text x="254.62" y="402.59" font-size="13.60" font-weight="bold">H</text>
<line x1="310.50" y1="419.00" x2="310.50" y2="542.00" stroke="#555" stroke-width="1.0"/>
<line x1="310.00" y1="541.50" x2="445.00" y2="541.50" stroke="#333" stroke-width="1.0"/>
<line x1="305.70" y1="541.50" x2="310.50" y2="541.50" stroke="#555" stroke-width="1.0"/>
<text x="298.71" y="544.31" font-size="9.60">0</text>
<line x1="305.70" y1="510.50" x2="310.50" y2="510.50" stroke="#555" stroke-width="1.0"/>
<text x="298.80" y="514.01" font-size="9.60">1</text>
<line x1="305.70" y1="480.50" x2="310.50" y2="480.50" stroke="#555" stroke-width="1.0"/>
<text x="298.85" y="483.76" font-size="9.60">2</text>
<line x1="305.70" y1="450.50" x2="310.50" y2="450.50" stroke="#555" stroke-width="1.0"/>
<text x="298.76" y="453.41" font-size="9.60">3</text>
<line x1="305.70" y1="419.50" x2="310.50" y2="419.50" stroke="#555" stroke-width="1.0"/>
<text x="298.66" y="423.11" font-size="9.60">4</text>
<rect x="317.50" y="511.50" width="14.00" height="29.50" fill="#838383" stroke="#262626" stroke-width="1.0"/>
<rect x="337.50" y="467.50" width="13.00" height="73.50" fill="#2f5282" stroke="#262626" stroke-width="1.0"/>
<rect x="355.50" y="463.50" width="14.00" height="77.50" fill="#58acab" stroke="#262626" stroke-width="1.0"/>
<rect x="386.50" y="471.50" width="13.00" height="69.50" fill="#838383" stroke="#262626" stroke-width="1.0"/>
<rect x="405.50" y="467.50" width="13.00" height="73.50" fill="#2f5282" stroke="#262626" stroke-width="1.0"/>
<rect x="423.50" y="465.50" width="13.00" height="75.50" fill="#58acab" stroke="#262626" stroke-width="1.0"/>
<line x1="324.40" y1="509.79" x2="324.40" y2="511.61" stroke="#1a1a1a" stroke-width="0.9"/>
<line x1="321.40" y1="509.79" x2="327.40" y2="509.79" stroke="#1a1a1a" stroke-width="0.9"/>
<line x1="321.40" y1="511.61" x2="327.40" y2="511.61" stroke="#1a1a1a" stroke-width="0.9"/>
<circle cx="319.90" cy="508.88" r="1.85" fill="#fff" stroke="#262626" stroke-width="0.75"/>
<circle cx="324.40" cy="512.22" r="1.85" fill="#fff" stroke="#262626" stroke-width="0.75"/>
<circle cx="328.90" cy="511.31" r="1.85" fill="#fff" stroke="#262626" stroke-width="0.75"/>
<line x1="343.90" y1="465.25" x2="343.90" y2="468.89" stroke="#1a1a1a" stroke-width="0.9"/>
<line x1="340.90" y1="465.25" x2="346.90" y2="465.25" stroke="#1a1a1a" stroke-width="0.9"/>
<line x1="340.90" y1="468.89" x2="346.90" y2="468.89" stroke="#1a1a1a" stroke-width="0.9"/>
<circle cx="339.40" cy="471.31" r="1.85" fill="#fff" stroke="#262626" stroke-width="0.75"/>
<circle cx="343.90" cy="463.74" r="1.85" fill="#fff" stroke="#262626" stroke-width="0.75"/>
<circle cx="348.40" cy="466.76" r="1.85" fill="#fff" stroke="#262626" stroke-width="0.75"/>
<line x1="362.40" y1="454.65" x2="362.40" y2="471.61" stroke="#1a1a1a" stroke-width="0.9"/>
<line x1="359.40" y1="454.65" x2="365.40" y2="454.65" stroke="#1a1a1a" stroke-width="0.9"/>
<line x1="359.40" y1="471.61" x2="365.40" y2="471.61" stroke="#1a1a1a" stroke-width="0.9"/>
<circle cx="357.90" cy="471.31" r="1.85" fill="#fff" stroke="#262626" stroke-width="0.75"/>
<circle cx="362.40" cy="447.07" r="1.85" fill="#fff" stroke="#262626" stroke-width="0.75"/>
<circle cx="366.90" cy="471.31" r="1.85" fill="#fff" stroke="#262626" stroke-width="0.75"/>
<line x1="392.60" y1="466.46" x2="392.60" y2="476.16" stroke="#1a1a1a" stroke-width="0.9"/>
<line x1="389.60" y1="466.46" x2="395.60" y2="466.46" stroke="#1a1a1a" stroke-width="0.9"/>
<line x1="389.60" y1="476.16" x2="395.60" y2="476.16" stroke="#1a1a1a" stroke-width="0.9"/>
<circle cx="392.60" cy="465.25" r="1.85" fill="#fff" stroke="#262626" stroke-width="0.75"/>
<circle cx="392.60" cy="471.31" r="1.85" fill="#fff" stroke="#262626" stroke-width="0.75"/>
<circle cx="392.60" cy="480.40" r="1.85" fill="#fff" stroke="#262626" stroke-width="0.75"/>
<line x1="411.70" y1="462.22" x2="411.70" y2="472.52" stroke="#1a1a1a" stroke-width="0.9"/>
<line x1="408.70" y1="462.22" x2="414.70" y2="462.22" stroke="#1a1a1a" stroke-width="0.9"/>
<line x1="408.70" y1="472.52" x2="414.70" y2="472.52" stroke="#1a1a1a" stroke-width="0.9"/>
<circle cx="411.70" cy="459.19" r="1.85" fill="#fff" stroke="#262626" stroke-width="0.75"/>
<circle cx="411.70" cy="469.80" r="1.85" fill="#fff" stroke="#262626" stroke-width="0.75"/>
<circle cx="411.70" cy="477.37" r="1.85" fill="#fff" stroke="#262626" stroke-width="0.75"/>
<line x1="430.20" y1="460.40" x2="430.20" y2="469.49" stroke="#1a1a1a" stroke-width="0.9"/>
<line x1="427.20" y1="460.40" x2="433.20" y2="460.40" stroke="#1a1a1a" stroke-width="0.9"/>
<line x1="427.20" y1="469.49" x2="433.20" y2="469.49" stroke="#1a1a1a" stroke-width="0.9"/>
<circle cx="430.20" cy="457.68" r="1.85" fill="#fff" stroke="#262626" stroke-width="0.75"/>
<circle cx="430.20" cy="465.25" r="1.85" fill="#fff" stroke="#262626" stroke-width="0.75"/>
<circle cx="430.20" cy="474.34" r="1.85" fill="#fff" stroke="#262626" stroke-width="0.75"/>
<text x="321.94" y="426.33" font-size="8.77"><tspan font-style="italic">P</tspan> = 0.0051</text>
<line x1="325.30" y1="432.50" x2="361.20" y2="432.50" stroke="#3a3a3a" stroke-width="1.0"/>
<text x="310.74" y="444.34" font-size="8.82"><tspan font-style="italic">P</tspan> = 7.47E-05</text>
<line x1="325.30" y1="450.50" x2="345.50" y2="450.50" stroke="#3a3a3a" stroke-width="1.0"/>
<text x="404.12" y="421.69" font-size="9.00">ns</text>
<line x1="391.90" y1="427.50" x2="427.50" y2="427.50" stroke="#3a3a3a" stroke-width="1.0"/>
<text x="395.72" y="438.88" font-size="9.00">ns</text>
<line x1="391.90" y1="444.50" x2="409.70" y2="444.50" stroke="#3a3a3a" stroke-width="1.0"/>
<text x="272.48" y="555.55" font-size="10.68" transform="rotate(-90 272.48 555.55)">Relative NADPH/NADP<tspan font-size="7.69" dy="-3.84">+</tspan><tspan dy="3.84"> level</tspan></text>
<text x="284.28" y="508.25" font-size="10.79" transform="rotate(-90 284.28 508.25)">(PANC-1)</text>
<text x="295.92" y="553.00" font-size="9.50">Mal</text>
<line x1="323.10" y1="549.90" x2="325.70" y2="549.90" stroke="#333" stroke-width="0.9"/>
<line x1="342.60" y1="549.90" x2="345.20" y2="549.90" stroke="#333" stroke-width="0.9"/>
<line x1="361.10" y1="549.90" x2="363.70" y2="549.90" stroke="#333" stroke-width="0.9"/>
<text x="389.82" y="552.78" font-size="9.50">+</text>
<text x="408.92" y="552.78" font-size="9.50">+</text>
<text x="427.42" y="552.78" font-size="9.50">+</text>
<text x="286.42" y="561.60" font-size="9.50">shCtrl</text>
<text x="321.62" y="561.38" font-size="9.50">+</text>
<line x1="342.60" y1="558.50" x2="345.20" y2="558.50" stroke="#333" stroke-width="0.9"/>
<line x1="361.10" y1="558.50" x2="363.70" y2="558.50" stroke="#333" stroke-width="0.9"/>
<text x="389.82" y="561.38" font-size="9.50">+</text>
<line x1="410.40" y1="558.50" x2="413.00" y2="558.50" stroke="#333" stroke-width="0.9"/>
<line x1="428.90" y1="558.50" x2="431.50" y2="558.50" stroke="#333" stroke-width="0.9"/>
<text x="257.73" y="570.30" font-size="9.50">sh<tspan font-style="italic">SMIM4</tspan> #1</text>
<line x1="323.10" y1="567.20" x2="325.70" y2="567.20" stroke="#333" stroke-width="0.9"/>
<text x="341.12" y="570.08" font-size="9.50">+</text>
<line x1="361.10" y1="567.20" x2="363.70" y2="567.20" stroke="#333" stroke-width="0.9"/>
<line x1="391.30" y1="567.20" x2="393.90" y2="567.20" stroke="#333" stroke-width="0.9"/>
<text x="408.92" y="570.08" font-size="9.50">+</text>
<line x1="428.90" y1="567.20" x2="431.50" y2="567.20" stroke="#333" stroke-width="0.9"/>
<text x="257.78" y="579.00" font-size="9.50">sh<tspan font-style="italic">SMIM4</tspan> #2</text>
<line x1="323.10" y1="575.90" x2="325.70" y2="575.90" stroke="#333" stroke-width="0.9"/>
<line x1="342.60" y1="575.90" x2="345.20" y2="575.90" stroke="#333" stroke-width="0.9"/>
<text x="359.62" y="578.78" font-size="9.50">+</text>
<line x1="391.30" y1="575.90" x2="393.90" y2="575.90" stroke="#333" stroke-width="0.9"/>
<line x1="410.40" y1="575.90" x2="413.00" y2="575.90" stroke="#333" stroke-width="0.9"/>
<text x="427.42" y="578.78" font-size="9.50">+</text>
<text x="488.92" y="403.19" font-size="13.60" font-weight="bold">I</text>
<line x1="535.50" y1="412.00" x2="535.50" y2="542.00" stroke="#555" stroke-width="1.0"/>
<line x1="535.00" y1="541.50" x2="679.30" y2="541.50" stroke="#333" stroke-width="1.0"/>
<line x1="530.80" y1="541.50" x2="535.50" y2="541.50" stroke="#555" stroke-width="1.0"/>
<text x="514.57" y="544.62" font-size="10.50">0.0</text>
<line x1="530.80" y1="498.50" x2="535.50" y2="498.50" stroke="#555" stroke-width="1.0"/>
<text x="514.63" y="501.72" font-size="10.50">0.5</text>
<line x1="530.80" y1="455.50" x2="535.50" y2="455.50" stroke="#555" stroke-width="1.0"/>
<text x="514.57" y="458.82" font-size="10.50">1.0</text>
<line x1="530.80" y1="412.50" x2="535.50" y2="412.50" stroke="#555" stroke-width="1.0"/>
<text x="514.63" y="415.87" font-size="10.50">1.5</text>
<rect x="543.50" y="455.50" width="14.00" height="85.50" fill="#838383" stroke="#262626" stroke-width="1.0"/>
<rect x="563.50" y="509.50" width="14.00" height="31.50" fill="#2f5282" stroke="#262626" stroke-width="1.0"/>
<rect x="584.50" y="520.50" width="13.00" height="20.50" fill="#58acab" stroke="#262626" stroke-width="1.0"/>
<rect x="616.50" y="510.50" width="13.00" height="30.50" fill="#838383" stroke="#262626" stroke-width="1.0"/>
<rect x="636.50" y="516.50" width="13.00" height="24.50" fill="#2f5282" stroke="#262626" stroke-width="1.0"/>
<rect x="656.50" y="519.50" width="14.00" height="21.50" fill="#58acab" stroke="#262626" stroke-width="1.0"/>
<line x1="550.40" y1="454.34" x2="550.40" y2="456.06" stroke="#1a1a1a" stroke-width="0.9"/>
<line x1="547.40" y1="454.34" x2="553.40" y2="454.34" stroke="#1a1a1a" stroke-width="0.9"/>
<line x1="547.40" y1="456.06" x2="553.40" y2="456.06" stroke="#1a1a1a" stroke-width="0.9"/>
<circle cx="545.90" cy="453.48" r="1.85" fill="#fff" stroke="#262626" stroke-width="0.75"/>
<circle cx="550.40" cy="456.06" r="1.85" fill="#fff" stroke="#262626" stroke-width="0.75"/>
<circle cx="554.90" cy="455.20" r="1.85" fill="#fff" stroke="#262626" stroke-width="0.75"/>
<line x1="570.50" y1="501.53" x2="570.50" y2="516.98" stroke="#1a1a1a" stroke-width="0.9"/>
<line x1="567.50" y1="501.53" x2="573.50" y2="501.53" stroke="#1a1a1a" stroke-width="0.9"/>
<line x1="567.50" y1="516.98" x2="573.50" y2="516.98" stroke="#1a1a1a" stroke-width="0.9"/>
<circle cx="570.50" cy="493.81" r="1.85" fill="#fff" stroke="#262626" stroke-width="0.75"/>
<circle cx="570.50" cy="510.97" r="1.85" fill="#fff" stroke="#262626" stroke-width="0.75"/>
<circle cx="570.50" cy="517.83" r="1.85" fill="#fff" stroke="#262626" stroke-width="0.75"/>
<line x1="591.00" y1="517.83" x2="591.00" y2="521.27" stroke="#1a1a1a" stroke-width="0.9"/>
<line x1="588.00" y1="517.83" x2="594.00" y2="517.83" stroke="#1a1a1a" stroke-width="0.9"/>
<line x1="588.00" y1="521.27" x2="594.00" y2="521.27" stroke="#1a1a1a" stroke-width="0.9"/>
<circle cx="586.50" cy="518.69" r="1.85" fill="#fff" stroke="#262626" stroke-width="0.75"/>
<circle cx="591.00" cy="521.27" r="1.85" fill="#fff" stroke="#262626" stroke-width="0.75"/>
<circle cx="595.50" cy="518.69" r="1.85" fill="#fff" stroke="#262626" stroke-width="0.75"/>
<line x1="622.90" y1="506.68" x2="622.90" y2="513.54" stroke="#1a1a1a" stroke-width="0.9"/>
<line x1="619.90" y1="506.68" x2="625.90" y2="506.68" stroke="#1a1a1a" stroke-width="0.9"/>
<line x1="619.90" y1="513.54" x2="625.90" y2="513.54" stroke="#1a1a1a" stroke-width="0.9"/>
<circle cx="618.40" cy="511.83" r="1.85" fill="#fff" stroke="#262626" stroke-width="0.75"/>
<circle cx="622.90" cy="503.25" r="1.85" fill="#fff" stroke="#262626" stroke-width="0.75"/>
<circle cx="627.40" cy="510.11" r="1.85" fill="#fff" stroke="#262626" stroke-width="0.75"/>
<line x1="643.10" y1="513.54" x2="643.10" y2="518.69" stroke="#1a1a1a" stroke-width="0.9"/>
<line x1="640.10" y1="513.54" x2="646.10" y2="513.54" stroke="#1a1a1a" stroke-width="0.9"/>
<line x1="640.10" y1="518.69" x2="646.10" y2="518.69" stroke="#1a1a1a" stroke-width="0.9"/>
<circle cx="638.60" cy="512.69" r="1.85" fill="#fff" stroke="#262626" stroke-width="0.75"/>
<circle cx="643.10" cy="519.55" r="1.85" fill="#fff" stroke="#262626" stroke-width="0.75"/>
<circle cx="647.60" cy="514.40" r="1.85" fill="#fff" stroke="#262626" stroke-width="0.75"/>
<line x1="663.20" y1="516.12" x2="663.20" y2="521.27" stroke="#1a1a1a" stroke-width="0.9"/>
<line x1="660.20" y1="516.12" x2="666.20" y2="516.12" stroke="#1a1a1a" stroke-width="0.9"/>
<line x1="660.20" y1="521.27" x2="666.20" y2="521.27" stroke="#1a1a1a" stroke-width="0.9"/>
<circle cx="658.70" cy="518.69" r="1.85" fill="#fff" stroke="#262626" stroke-width="0.75"/>
<circle cx="663.20" cy="514.40" r="1.85" fill="#fff" stroke="#262626" stroke-width="0.75"/>
<circle cx="667.70" cy="519.55" r="1.85" fill="#fff" stroke="#262626" stroke-width="0.75"/>
<text x="541.92" y="419.40" font-size="9.28"><tspan font-style="italic">P</tspan> = 9.25E-06</text>
<line x1="550.00" y1="424.50" x2="588.30" y2="424.50" stroke="#3a3a3a" stroke-width="1.0"/>
<text x="537.52" y="438.12" font-size="9.33"><tspan font-style="italic">P</tspan> = 0.0019</text>
<line x1="550.00" y1="444.50" x2="569.70" y2="444.50" stroke="#3a3a3a" stroke-width="1.0"/>
<text x="636.52" y="471.38" font-size="9.00">ns</text>
<line x1="622.90" y1="478.50" x2="660.50" y2="478.50" stroke="#3a3a3a" stroke-width="1.0"/>
<text x="627.42" y="488.88" font-size="9.00">ns</text>
<line x1="622.90" y1="495.50" x2="642.40" y2="495.50" stroke="#3a3a3a" stroke-width="1.0"/>
<text x="493.76" y="529.91" font-size="11.40" transform="rotate(-90 493.76 529.91)">Relative H<tspan font-size="8.21" dy="2.74">2</tspan><tspan dy="-2.74">O</tspan><tspan font-size="8.21" dy="2.74">2</tspan><tspan dy="-2.74"> level</tspan></text>
<text x="510.03" y="516.81" font-size="11.76" transform="rotate(-90 510.03 516.81)">(MIA PaCa-2)</text>
<text x="519.84" y="554.45" font-size="10.20">Mal</text>
<line x1="549.10" y1="551.10" x2="551.70" y2="551.10" stroke="#333" stroke-width="0.9"/>
<line x1="569.20" y1="551.10" x2="571.80" y2="551.10" stroke="#333" stroke-width="0.9"/>
<line x1="589.70" y1="551.10" x2="592.30" y2="551.10" stroke="#333" stroke-width="0.9"/>
<text x="619.92" y="554.22" font-size="10.20">+</text>
<text x="640.12" y="554.22" font-size="10.20">+</text>
<text x="660.22" y="554.22" font-size="10.20">+</text>
<text x="509.64" y="563.55" font-size="10.20">shCtrl</text>
<text x="547.42" y="563.32" font-size="10.20">+</text>
<line x1="569.20" y1="560.20" x2="571.80" y2="560.20" stroke="#333" stroke-width="0.9"/>
<line x1="589.70" y1="560.20" x2="592.30" y2="560.20" stroke="#333" stroke-width="0.9"/>
<text x="619.92" y="563.32" font-size="10.20">+</text>
<line x1="641.80" y1="560.20" x2="644.40" y2="560.20" stroke="#333" stroke-width="0.9"/>
<line x1="661.90" y1="560.20" x2="664.50" y2="560.20" stroke="#333" stroke-width="0.9"/>
<text x="478.84" y="573.25" font-size="10.20">sh<tspan font-style="italic">SMIM4</tspan> #1</text>
<line x1="549.10" y1="569.90" x2="551.70" y2="569.90" stroke="#333" stroke-width="0.9"/>
<text x="567.52" y="573.02" font-size="10.20">+</text>
<line x1="589.70" y1="569.90" x2="592.30" y2="569.90" stroke="#333" stroke-width="0.9"/>
<line x1="621.60" y1="569.90" x2="624.20" y2="569.90" stroke="#333" stroke-width="0.9"/>
<text x="640.12" y="573.02" font-size="10.20">+</text>
<line x1="661.90" y1="569.90" x2="664.50" y2="569.90" stroke="#333" stroke-width="0.9"/>
<text x="478.89" y="582.85" font-size="10.20">sh<tspan font-style="italic">SMIM4</tspan> #2</text>
<line x1="549.10" y1="579.50" x2="551.70" y2="579.50" stroke="#333" stroke-width="0.9"/>
<line x1="569.20" y1="579.50" x2="571.80" y2="579.50" stroke="#333" stroke-width="0.9"/>
<text x="588.02" y="582.62" font-size="10.20">+</text>
<line x1="621.60" y1="579.50" x2="624.20" y2="579.50" stroke="#333" stroke-width="0.9"/>
<line x1="641.80" y1="579.50" x2="644.40" y2="579.50" stroke="#333" stroke-width="0.9"/>
<text x="660.22" y="582.62" font-size="10.20">+</text>
<text x="6.70" y="609.92" font-size="13.60" font-weight="bold">J</text>
<line x1="77.50" y1="617.00" x2="77.50" y2="746.00" stroke="#555" stroke-width="1.0"/>
<line x1="77.00" y1="745.50" x2="221.00" y2="745.50" stroke="#333" stroke-width="1.0"/>
<line x1="72.20" y1="745.50" x2="77.50" y2="745.50" stroke="#555" stroke-width="1.0"/>
<text x="56.65" y="749.35" font-size="10.00">0.0</text>
<line x1="72.20" y1="703.50" x2="77.50" y2="703.50" stroke="#555" stroke-width="1.0"/>
<text x="56.70" y="706.45" font-size="10.00">0.5</text>
<line x1="72.20" y1="660.50" x2="77.50" y2="660.50" stroke="#555" stroke-width="1.0"/>
<text x="56.65" y="663.55" font-size="10.00">1.0</text>
<line x1="72.20" y1="617.50" x2="77.50" y2="617.50" stroke="#555" stroke-width="1.0"/>
<text x="56.70" y="620.60" font-size="10.00">1.5</text>
<rect x="85.50" y="660.50" width="14.00" height="85.50" fill="#838383" stroke="#262626" stroke-width="1.0"/>
<rect x="105.50" y="726.50" width="14.00" height="19.50" fill="#2f5282" stroke="#262626" stroke-width="1.0"/>
<rect x="125.50" y="730.50" width="14.00" height="15.50" fill="#58acab" stroke="#262626" stroke-width="1.0"/>
<rect x="157.50" y="728.50" width="14.00" height="17.50" fill="#838383" stroke="#262626" stroke-width="1.0"/>
<rect x="177.50" y="730.50" width="14.00" height="15.50" fill="#2f5282" stroke="#262626" stroke-width="1.0"/>
<rect x="198.50" y="731.50" width="14.00" height="14.50" fill="#58acab" stroke="#262626" stroke-width="1.0"/>
<line x1="92.70" y1="655.81" x2="92.70" y2="664.39" stroke="#1a1a1a" stroke-width="0.9"/>
<line x1="89.70" y1="655.81" x2="95.70" y2="655.81" stroke="#1a1a1a" stroke-width="0.9"/>
<line x1="89.70" y1="664.39" x2="95.70" y2="664.39" stroke="#1a1a1a" stroke-width="0.9"/>
<circle cx="88.20" cy="664.39" r="1.85" fill="#fff" stroke="#262626" stroke-width="0.75"/>
<circle cx="92.70" cy="651.52" r="1.85" fill="#fff" stroke="#262626" stroke-width="0.75"/>
<circle cx="97.20" cy="664.39" r="1.85" fill="#fff" stroke="#262626" stroke-width="0.75"/>
<line x1="112.50" y1="724.45" x2="112.50" y2="727.88" stroke="#1a1a1a" stroke-width="0.9"/>
<line x1="109.50" y1="724.45" x2="115.50" y2="724.45" stroke="#1a1a1a" stroke-width="0.9"/>
<line x1="109.50" y1="727.88" x2="115.50" y2="727.88" stroke="#1a1a1a" stroke-width="0.9"/>
<circle cx="108.00" cy="723.59" r="1.85" fill="#fff" stroke="#262626" stroke-width="0.75"/>
<circle cx="112.50" cy="726.17" r="1.85" fill="#fff" stroke="#262626" stroke-width="0.75"/>
<circle cx="117.00" cy="725.31" r="1.85" fill="#fff" stroke="#262626" stroke-width="0.75"/>
<line x1="132.70" y1="729.60" x2="132.70" y2="731.31" stroke="#1a1a1a" stroke-width="0.9"/>
<line x1="129.70" y1="729.60" x2="135.70" y2="729.60" stroke="#1a1a1a" stroke-width="0.9"/>
<line x1="129.70" y1="731.31" x2="135.70" y2="731.31" stroke="#1a1a1a" stroke-width="0.9"/>
<circle cx="128.20" cy="730.46" r="1.85" fill="#fff" stroke="#262626" stroke-width="0.75"/>
<circle cx="132.70" cy="729.60" r="1.85" fill="#fff" stroke="#262626" stroke-width="0.75"/>
<circle cx="137.20" cy="730.46" r="1.85" fill="#fff" stroke="#262626" stroke-width="0.75"/>
<line x1="164.60" y1="727.02" x2="164.60" y2="728.74" stroke="#1a1a1a" stroke-width="0.9"/>
<line x1="161.60" y1="727.02" x2="167.60" y2="727.02" stroke="#1a1a1a" stroke-width="0.9"/>
<line x1="161.60" y1="728.74" x2="167.60" y2="728.74" stroke="#1a1a1a" stroke-width="0.9"/>
<circle cx="160.10" cy="727.02" r="1.85" fill="#fff" stroke="#262626" stroke-width="0.75"/>
<circle cx="164.60" cy="728.74" r="1.85" fill="#fff" stroke="#262626" stroke-width="0.75"/>
<circle cx="169.10" cy="727.02" r="1.85" fill="#fff" stroke="#262626" stroke-width="0.75"/>
<line x1="184.70" y1="728.74" x2="184.70" y2="732.17" stroke="#1a1a1a" stroke-width="0.9"/>
<line x1="181.70" y1="728.74" x2="187.70" y2="728.74" stroke="#1a1a1a" stroke-width="0.9"/>
<line x1="181.70" y1="732.17" x2="187.70" y2="732.17" stroke="#1a1a1a" stroke-width="0.9"/>
<circle cx="180.20" cy="731.31" r="1.85" fill="#fff" stroke="#262626" stroke-width="0.75"/>
<circle cx="184.70" cy="727.02" r="1.85" fill="#fff" stroke="#262626" stroke-width="0.75"/>
<circle cx="189.20" cy="731.31" r="1.85" fill="#fff" stroke="#262626" stroke-width="0.75"/>
<line x1="205.50" y1="730.46" x2="205.50" y2="732.17" stroke="#1a1a1a" stroke-width="0.9"/>
<line x1="202.50" y1="730.46" x2="208.50" y2="730.46" stroke="#1a1a1a" stroke-width="0.9"/>
<line x1="202.50" y1="732.17" x2="208.50" y2="732.17" stroke="#1a1a1a" stroke-width="0.9"/>
<circle cx="201.00" cy="731.31" r="1.85" fill="#fff" stroke="#262626" stroke-width="0.75"/>
<circle cx="205.50" cy="729.60" r="1.85" fill="#fff" stroke="#262626" stroke-width="0.75"/>
<circle cx="210.00" cy="730.46" r="1.85" fill="#fff" stroke="#262626" stroke-width="0.75"/>
<text x="83.72" y="620.03" font-size="9.37"><tspan font-style="italic">P</tspan> = 9.35E-05</text>
<line x1="92.30" y1="626.50" x2="130.30" y2="626.50" stroke="#3a3a3a" stroke-width="1.0"/>
<text x="79.32" y="639.57" font-size="9.19"><tspan font-style="italic">P</tspan> = 0.0001</text>
<line x1="92.30" y1="645.50" x2="112.10" y2="645.50" stroke="#3a3a3a" stroke-width="1.0"/>
<text x="177.42" y="697.38" font-size="9.00">ns</text>
<line x1="163.50" y1="703.50" x2="201.50" y2="703.50" stroke="#3a3a3a" stroke-width="1.0"/>
<text x="168.02" y="714.18" font-size="9.00">ns</text>
<line x1="163.50" y1="720.50" x2="183.00" y2="720.50" stroke="#3a3a3a" stroke-width="1.0"/>
<text x="36.36" y="734.91" font-size="11.38" transform="rotate(-90 36.36 734.91)">Relative H<tspan font-size="8.20" dy="2.73">2</tspan><tspan dy="-2.73">O</tspan><tspan font-size="8.20" dy="2.73">2</tspan><tspan dy="-2.73"> level</tspan></text>
<text x="51.87" y="710.79" font-size="11.54" transform="rotate(-90 51.87 710.79)">(PANC-1)</text>
<text x="62.45" y="759.18" font-size="10.00">Mal</text>
<line x1="91.40" y1="755.90" x2="94.00" y2="755.90" stroke="#333" stroke-width="0.9"/>
<line x1="111.20" y1="755.90" x2="113.80" y2="755.90" stroke="#333" stroke-width="0.9"/>
<line x1="131.40" y1="755.90" x2="134.00" y2="755.90" stroke="#333" stroke-width="0.9"/>
<text x="161.67" y="758.95" font-size="10.00">+</text>
<text x="181.78" y="758.95" font-size="10.00">+</text>
<text x="202.57" y="758.95" font-size="10.00">+</text>
<text x="52.45" y="768.38" font-size="10.00">shCtrl</text>
<text x="89.78" y="768.15" font-size="10.00">+</text>
<line x1="111.20" y1="765.10" x2="113.80" y2="765.10" stroke="#333" stroke-width="0.9"/>
<line x1="131.40" y1="765.10" x2="134.00" y2="765.10" stroke="#333" stroke-width="0.9"/>
<text x="161.67" y="768.15" font-size="10.00">+</text>
<line x1="183.40" y1="765.10" x2="186.00" y2="765.10" stroke="#333" stroke-width="0.9"/>
<line x1="204.20" y1="765.10" x2="206.80" y2="765.10" stroke="#333" stroke-width="0.9"/>
<text x="22.25" y="777.78" font-size="10.00">sh<tspan font-style="italic">SMIM4</tspan> #1</text>
<line x1="91.40" y1="774.50" x2="94.00" y2="774.50" stroke="#333" stroke-width="0.9"/>
<text x="109.58" y="777.55" font-size="10.00">+</text>
<line x1="131.40" y1="774.50" x2="134.00" y2="774.50" stroke="#333" stroke-width="0.9"/>
<line x1="163.30" y1="774.50" x2="165.90" y2="774.50" stroke="#333" stroke-width="0.9"/>
<text x="181.78" y="777.55" font-size="10.00">+</text>
<line x1="204.20" y1="774.50" x2="206.80" y2="774.50" stroke="#333" stroke-width="0.9"/>
<text x="22.30" y="787.18" font-size="10.00">sh<tspan font-style="italic">SMIM4</tspan> #2</text>
<line x1="91.40" y1="783.90" x2="94.00" y2="783.90" stroke="#333" stroke-width="0.9"/>
<line x1="111.20" y1="783.90" x2="113.80" y2="783.90" stroke="#333" stroke-width="0.9"/>
<text x="129.77" y="786.95" font-size="10.00">+</text>
<line x1="163.30" y1="783.90" x2="165.90" y2="783.90" stroke="#333" stroke-width="0.9"/>
<line x1="183.40" y1="783.90" x2="186.00" y2="783.90" stroke="#333" stroke-width="0.9"/>
<text x="202.57" y="786.95" font-size="10.00">+</text>
<text x="254.62" y="608.29" font-size="13.60" font-weight="bold">K</text>
<line x1="310.50" y1="617.00" x2="310.50" y2="748.00" stroke="#555" stroke-width="1.0"/>
<line x1="310.00" y1="747.50" x2="453.30" y2="747.50" stroke="#333" stroke-width="1.0"/>
<line x1="305.20" y1="747.50" x2="310.50" y2="747.50" stroke="#555" stroke-width="1.0"/>
<text x="289.65" y="751.05" font-size="10.00">0.0</text>
<line x1="305.20" y1="704.50" x2="310.50" y2="704.50" stroke="#555" stroke-width="1.0"/>
<text x="289.70" y="707.65" font-size="10.00">0.5</text>
<line x1="305.20" y1="660.50" x2="310.50" y2="660.50" stroke="#555" stroke-width="1.0"/>
<text x="289.65" y="664.25" font-size="10.00">1.0</text>
<line x1="305.20" y1="617.50" x2="310.50" y2="617.50" stroke="#555" stroke-width="1.0"/>
<text x="289.70" y="620.80" font-size="10.00">1.5</text>
<rect x="318.50" y="661.50" width="14.00" height="86.50" fill="#838383" stroke="#262626" stroke-width="1.0"/>
<rect x="338.50" y="699.50" width="14.00" height="48.50" fill="#2f5282" stroke="#262626" stroke-width="1.0"/>
<rect x="359.50" y="703.50" width="13.00" height="44.50" fill="#58acab" stroke="#262626" stroke-width="1.0"/>
<rect x="390.50" y="704.50" width="14.00" height="43.50" fill="#838383" stroke="#262626" stroke-width="1.0"/>
<rect x="411.50" y="702.50" width="13.00" height="45.50" fill="#2f5282" stroke="#262626" stroke-width="1.0"/>
<rect x="431.50" y="703.50" width="13.00" height="44.50" fill="#58acab" stroke="#262626" stroke-width="1.0"/>
<line x1="325.30" y1="659.93" x2="325.30" y2="661.67" stroke="#1a1a1a" stroke-width="0.9"/>
<line x1="322.30" y1="659.93" x2="328.30" y2="659.93" stroke="#1a1a1a" stroke-width="0.9"/>
<line x1="322.30" y1="661.67" x2="328.30" y2="661.67" stroke="#1a1a1a" stroke-width="0.9"/>
<circle cx="320.80" cy="661.67" r="1.85" fill="#fff" stroke="#262626" stroke-width="0.75"/>
<circle cx="325.30" cy="659.06" r="1.85" fill="#fff" stroke="#262626" stroke-width="0.75"/>
<circle cx="329.80" cy="660.80" r="1.85" fill="#fff" stroke="#262626" stroke-width="0.75"/>
<line x1="345.80" y1="698.56" x2="345.80" y2="700.29" stroke="#1a1a1a" stroke-width="0.9"/>
<line x1="342.80" y1="698.56" x2="348.80" y2="698.56" stroke="#1a1a1a" stroke-width="0.9"/>
<line x1="342.80" y1="700.29" x2="348.80" y2="700.29" stroke="#1a1a1a" stroke-width="0.9"/>
<circle cx="341.30" cy="698.99" r="1.85" fill="#fff" stroke="#262626" stroke-width="0.75"/>
<circle cx="345.80" cy="698.12" r="1.85" fill="#fff" stroke="#262626" stroke-width="0.75"/>
<circle cx="350.30" cy="698.99" r="1.85" fill="#fff" stroke="#262626" stroke-width="0.75"/>
<line x1="365.90" y1="701.60" x2="365.90" y2="705.07" stroke="#1a1a1a" stroke-width="0.9"/>
<line x1="362.90" y1="701.60" x2="368.90" y2="701.60" stroke="#1a1a1a" stroke-width="0.9"/>
<line x1="362.90" y1="705.07" x2="368.90" y2="705.07" stroke="#1a1a1a" stroke-width="0.9"/>
<circle cx="361.40" cy="705.07" r="1.85" fill="#fff" stroke="#262626" stroke-width="0.75"/>
<circle cx="365.90" cy="700.73" r="1.85" fill="#fff" stroke="#262626" stroke-width="0.75"/>
<circle cx="370.40" cy="704.20" r="1.85" fill="#fff" stroke="#262626" stroke-width="0.75"/>
<line x1="397.50" y1="702.90" x2="397.50" y2="704.63" stroke="#1a1a1a" stroke-width="0.9"/>
<line x1="394.50" y1="702.90" x2="400.50" y2="702.90" stroke="#1a1a1a" stroke-width="0.9"/>
<line x1="394.50" y1="704.63" x2="400.50" y2="704.63" stroke="#1a1a1a" stroke-width="0.9"/>
<circle cx="393.00" cy="704.20" r="1.85" fill="#fff" stroke="#262626" stroke-width="0.75"/>
<circle cx="397.50" cy="701.60" r="1.85" fill="#fff" stroke="#262626" stroke-width="0.75"/>
<circle cx="402.00" cy="704.20" r="1.85" fill="#fff" stroke="#262626" stroke-width="0.75"/>
<line x1="418.00" y1="699.86" x2="418.00" y2="705.07" stroke="#1a1a1a" stroke-width="0.9"/>
<line x1="415.00" y1="699.86" x2="421.00" y2="699.86" stroke="#1a1a1a" stroke-width="0.9"/>
<line x1="415.00" y1="705.07" x2="421.00" y2="705.07" stroke="#1a1a1a" stroke-width="0.9"/>
<circle cx="413.50" cy="704.20" r="1.85" fill="#fff" stroke="#262626" stroke-width="0.75"/>
<circle cx="418.00" cy="698.99" r="1.85" fill="#fff" stroke="#262626" stroke-width="0.75"/>
<circle cx="422.50" cy="704.20" r="1.85" fill="#fff" stroke="#262626" stroke-width="0.75"/>
<line x1="438.10" y1="701.60" x2="438.10" y2="705.07" stroke="#1a1a1a" stroke-width="0.9"/>
<line x1="435.10" y1="701.60" x2="441.10" y2="701.60" stroke="#1a1a1a" stroke-width="0.9"/>
<line x1="435.10" y1="705.07" x2="441.10" y2="705.07" stroke="#1a1a1a" stroke-width="0.9"/>
<circle cx="433.60" cy="704.20" r="1.85" fill="#fff" stroke="#262626" stroke-width="0.75"/>
<circle cx="438.10" cy="701.60" r="1.85" fill="#fff" stroke="#262626" stroke-width="0.75"/>
<circle cx="442.60" cy="704.20" r="1.85" fill="#fff" stroke="#262626" stroke-width="0.75"/>
<text x="316.62" y="624.73" font-size="9.37"><tspan font-style="italic">P</tspan> = 7.07E-05</text>
<line x1="325.30" y1="630.50" x2="363.00" y2="630.50" stroke="#3a3a3a" stroke-width="1.0"/>
<text x="311.02" y="644.46" font-size="9.44"><tspan font-style="italic">P</tspan> = 5.97E-06</text>
<line x1="325.30" y1="649.50" x2="344.60" y2="649.50" stroke="#3a3a3a" stroke-width="1.0"/>
<text x="411.52" y="664.78" font-size="9.00">ns</text>
<line x1="397.30" y1="671.50" x2="435.50" y2="671.50" stroke="#3a3a3a" stroke-width="1.0"/>
<text x="401.42" y="683.28" font-size="9.00">ns</text>
<line x1="397.30" y1="690.50" x2="417.10" y2="690.50" stroke="#3a3a3a" stroke-width="1.0"/>
<text x="269.08" y="724.33" font-size="11.57" transform="rotate(-90 269.08 724.33)">Lipid oxidation</text>
<text x="282.46" y="755.72" font-size="11.49" transform="rotate(-90 282.46 755.72)">Relative MFI (MIA PaCa-2)</text>
<text x="295.15" y="758.98" font-size="10.00">Mal</text>
<line x1="324.00" y1="755.70" x2="326.60" y2="755.70" stroke="#333" stroke-width="0.9"/>
<line x1="344.50" y1="755.70" x2="347.10" y2="755.70" stroke="#333" stroke-width="0.9"/>
<line x1="364.60" y1="755.70" x2="367.20" y2="755.70" stroke="#333" stroke-width="0.9"/>
<text x="394.57" y="758.75" font-size="10.00">+</text>
<text x="415.07" y="758.75" font-size="10.00">+</text>
<text x="435.18" y="758.75" font-size="10.00">+</text>
<text x="285.15" y="768.38" font-size="10.00">shCtrl</text>
<text x="322.38" y="768.15" font-size="10.00">+</text>
<line x1="344.50" y1="765.10" x2="347.10" y2="765.10" stroke="#333" stroke-width="0.9"/>
<line x1="364.60" y1="765.10" x2="367.20" y2="765.10" stroke="#333" stroke-width="0.9"/>
<text x="394.57" y="768.15" font-size="10.00">+</text>
<line x1="416.70" y1="765.10" x2="419.30" y2="765.10" stroke="#333" stroke-width="0.9"/>
<line x1="436.80" y1="765.10" x2="439.40" y2="765.10" stroke="#333" stroke-width="0.9"/>
<text x="254.95" y="777.78" font-size="10.00">sh<tspan font-style="italic">SMIM4</tspan> #1</text>
<line x1="324.00" y1="774.50" x2="326.60" y2="774.50" stroke="#333" stroke-width="0.9"/>
<text x="342.88" y="777.55" font-size="10.00">+</text>
<line x1="364.60" y1="774.50" x2="367.20" y2="774.50" stroke="#333" stroke-width="0.9"/>
<line x1="396.20" y1="774.50" x2="398.80" y2="774.50" stroke="#333" stroke-width="0.9"/>
<text x="415.07" y="777.55" font-size="10.00">+</text>
<line x1="436.80" y1="774.50" x2="439.40" y2="774.50" stroke="#333" stroke-width="0.9"/>
<text x="255.00" y="787.18" font-size="10.00">sh<tspan font-style="italic">SMIM4</tspan> #2</text>
<line x1="324.00" y1="783.90" x2="326.60" y2="783.90" stroke="#333" stroke-width="0.9"/>
<line x1="344.50" y1="783.90" x2="347.10" y2="783.90" stroke="#333" stroke-width="0.9"/>
<text x="362.98" y="786.95" font-size="10.00">+</text>
<line x1="396.20" y1="783.90" x2="398.80" y2="783.90" stroke="#333" stroke-width="0.9"/>
<line x1="416.70" y1="783.90" x2="419.30" y2="783.90" stroke="#333" stroke-width="0.9"/>
<text x="435.18" y="786.95" font-size="10.00">+</text>
<text x="488.12" y="611.79" font-size="13.60" font-weight="bold">L</text>
<line x1="536.50" y1="622.00" x2="536.50" y2="746.00" stroke="#555" stroke-width="1.0"/>
<line x1="536.00" y1="745.50" x2="671.60" y2="745.50" stroke="#333" stroke-width="1.0"/>
<line x1="531.70" y1="745.50" x2="536.50" y2="745.50" stroke="#555" stroke-width="1.0"/>
<text x="516.15" y="748.45" font-size="10.00">0.0</text>
<line x1="531.70" y1="704.50" x2="536.50" y2="704.50" stroke="#555" stroke-width="1.0"/>
<text x="516.20" y="707.55" font-size="10.00">0.5</text>
<line x1="531.70" y1="663.50" x2="536.50" y2="663.50" stroke="#555" stroke-width="1.0"/>
<text x="516.15" y="666.65" font-size="10.00">1.0</text>
<line x1="531.70" y1="622.50" x2="536.50" y2="622.50" stroke="#555" stroke-width="1.0"/>
<text x="516.20" y="625.70" font-size="10.00">1.5</text>
<rect x="544.50" y="663.50" width="13.00" height="81.50" fill="#838383" stroke="#262626" stroke-width="1.0"/>
<rect x="563.50" y="716.50" width="13.00" height="28.50" fill="#2f5282" stroke="#262626" stroke-width="1.0"/>
<rect x="583.50" y="715.50" width="13.00" height="29.50" fill="#58acab" stroke="#262626" stroke-width="1.0"/>
<rect x="613.50" y="717.50" width="13.00" height="27.50" fill="#838383" stroke="#262626" stroke-width="1.0"/>
<rect x="631.50" y="712.50" width="13.00" height="32.50" fill="#2f5282" stroke="#262626" stroke-width="1.0"/>
<rect x="651.50" y="715.50" width="13.00" height="29.50" fill="#58acab" stroke="#262626" stroke-width="1.0"/>
<line x1="551.00" y1="659.93" x2="551.00" y2="666.47" stroke="#1a1a1a" stroke-width="0.9"/>
<line x1="548.00" y1="659.93" x2="554.00" y2="659.93" stroke="#1a1a1a" stroke-width="0.9"/>
<line x1="548.00" y1="666.47" x2="554.00" y2="666.47" stroke="#1a1a1a" stroke-width="0.9"/>
<circle cx="546.50" cy="659.11" r="1.85" fill="#fff" stroke="#262626" stroke-width="0.75"/>
<circle cx="551.00" cy="668.93" r="1.85" fill="#fff" stroke="#262626" stroke-width="0.75"/>
<circle cx="555.50" cy="660.75" r="1.85" fill="#fff" stroke="#262626" stroke-width="0.75"/>
<line x1="570.10" y1="714.49" x2="570.10" y2="717.76" stroke="#1a1a1a" stroke-width="0.9"/>
<line x1="567.10" y1="714.49" x2="573.10" y2="714.49" stroke="#1a1a1a" stroke-width="0.9"/>
<line x1="567.10" y1="717.76" x2="573.10" y2="717.76" stroke="#1a1a1a" stroke-width="0.9"/>
<circle cx="565.60" cy="714.73" r="1.85" fill="#fff" stroke="#262626" stroke-width="0.75"/>
<circle cx="570.10" cy="718.82" r="1.85" fill="#fff" stroke="#262626" stroke-width="0.75"/>
<circle cx="574.60" cy="714.73" r="1.85" fill="#fff" stroke="#262626" stroke-width="0.75"/>
<line x1="589.60" y1="711.05" x2="589.60" y2="719.23" stroke="#1a1a1a" stroke-width="0.9"/>
<line x1="586.60" y1="711.05" x2="592.60" y2="711.05" stroke="#1a1a1a" stroke-width="0.9"/>
<line x1="586.60" y1="719.23" x2="592.60" y2="719.23" stroke="#1a1a1a" stroke-width="0.9"/>
<circle cx="589.60" cy="708.19" r="1.85" fill="#fff" stroke="#262626" stroke-width="0.75"/>
<circle cx="589.60" cy="713.10" r="1.85" fill="#fff" stroke="#262626" stroke-width="0.75"/>
<circle cx="589.60" cy="722.91" r="1.85" fill="#fff" stroke="#262626" stroke-width="0.75"/>
<line x1="619.80" y1="711.05" x2="619.80" y2="722.50" stroke="#1a1a1a" stroke-width="0.9"/>
<line x1="616.80" y1="711.05" x2="622.80" y2="711.05" stroke="#1a1a1a" stroke-width="0.9"/>
<line x1="616.80" y1="722.50" x2="622.80" y2="722.50" stroke="#1a1a1a" stroke-width="0.9"/>
<circle cx="619.80" cy="705.74" r="1.85" fill="#fff" stroke="#262626" stroke-width="0.75"/>
<circle cx="619.80" cy="720.46" r="1.85" fill="#fff" stroke="#262626" stroke-width="0.75"/>
<circle cx="624.30" cy="721.28" r="1.85" fill="#fff" stroke="#262626" stroke-width="0.75"/>
<line x1="638.30" y1="707.70" x2="638.30" y2="715.88" stroke="#1a1a1a" stroke-width="0.9"/>
<line x1="635.30" y1="707.70" x2="641.30" y2="707.70" stroke="#1a1a1a" stroke-width="0.9"/>
<line x1="635.30" y1="715.88" x2="641.30" y2="715.88" stroke="#1a1a1a" stroke-width="0.9"/>
<circle cx="638.30" cy="706.55" r="1.85" fill="#fff" stroke="#262626" stroke-width="0.75"/>
<circle cx="638.30" cy="709.83" r="1.85" fill="#fff" stroke="#262626" stroke-width="0.75"/>
<circle cx="638.30" cy="718.01" r="1.85" fill="#fff" stroke="#262626" stroke-width="0.75"/>
<line x1="657.80" y1="708.60" x2="657.80" y2="721.69" stroke="#1a1a1a" stroke-width="0.9"/>
<line x1="654.80" y1="708.60" x2="660.80" y2="708.60" stroke="#1a1a1a" stroke-width="0.9"/>
<line x1="654.80" y1="721.69" x2="660.80" y2="721.69" stroke="#1a1a1a" stroke-width="0.9"/>
<circle cx="657.80" cy="702.46" r="1.85" fill="#fff" stroke="#262626" stroke-width="0.75"/>
<circle cx="653.30" cy="721.28" r="1.85" fill="#fff" stroke="#262626" stroke-width="0.75"/>
<circle cx="662.30" cy="721.28" r="1.85" fill="#fff" stroke="#262626" stroke-width="0.75"/>
<text x="547.13" y="628.97" font-size="8.88"><tspan font-style="italic">P</tspan> = 0.0008</text>
<line x1="551.00" y1="634.50" x2="586.90" y2="634.50" stroke="#3a3a3a" stroke-width="1.0"/>
<text x="538.94" y="647.04" font-size="8.80"><tspan font-style="italic">P</tspan> = 0.0002</text>
<line x1="551.00" y1="652.50" x2="569.30" y2="652.50" stroke="#3a3a3a" stroke-width="1.0"/>
<text x="631.42" y="673.18" font-size="9.00">ns</text>
<line x1="618.50" y1="679.50" x2="655.50" y2="679.50" stroke="#3a3a3a" stroke-width="1.0"/>
<text x="623.02" y="690.68" font-size="9.00">ns</text>
<line x1="618.50" y1="696.50" x2="637.30" y2="696.50" stroke="#3a3a3a" stroke-width="1.0"/>
<text x="499.36" y="722.96" font-size="10.74" transform="rotate(-90 499.36 722.96)">Lipid oxidation</text>
<text x="511.58" y="742.96" font-size="10.80" transform="rotate(-90 511.58 742.96)">Relative MFI (PANC-1)</text>
<text x="522.62" y="756.50" font-size="9.50">Mal</text>
<line x1="549.70" y1="753.40" x2="552.30" y2="753.40" stroke="#333" stroke-width="0.9"/>
<line x1="568.80" y1="753.40" x2="571.40" y2="753.40" stroke="#333" stroke-width="0.9"/>
<line x1="588.30" y1="753.40" x2="590.90" y2="753.40" stroke="#333" stroke-width="0.9"/>
<text x="617.02" y="756.28" font-size="9.50">+</text>
<text x="635.52" y="756.28" font-size="9.50">+</text>
<text x="655.02" y="756.28" font-size="9.50">+</text>
<text x="513.12" y="764.90" font-size="9.50">shCtrl</text>
<text x="548.22" y="764.68" font-size="9.50">+</text>
<line x1="568.80" y1="761.80" x2="571.40" y2="761.80" stroke="#333" stroke-width="0.9"/>
<line x1="588.30" y1="761.80" x2="590.90" y2="761.80" stroke="#333" stroke-width="0.9"/>
<text x="617.02" y="764.68" font-size="9.50">+</text>
<line x1="637.00" y1="761.80" x2="639.60" y2="761.80" stroke="#333" stroke-width="0.9"/>
<line x1="656.50" y1="761.80" x2="659.10" y2="761.80" stroke="#333" stroke-width="0.9"/>
<text x="484.43" y="773.90" font-size="9.50">sh<tspan font-style="italic">SMIM4</tspan> #1</text>
<line x1="549.70" y1="770.80" x2="552.30" y2="770.80" stroke="#333" stroke-width="0.9"/>
<text x="567.32" y="773.68" font-size="9.50">+</text>
<line x1="588.30" y1="770.80" x2="590.90" y2="770.80" stroke="#333" stroke-width="0.9"/>
<line x1="618.50" y1="770.80" x2="621.10" y2="770.80" stroke="#333" stroke-width="0.9"/>
<text x="635.52" y="773.68" font-size="9.50">+</text>
<line x1="656.50" y1="770.80" x2="659.10" y2="770.80" stroke="#333" stroke-width="0.9"/>
<text x="484.48" y="782.90" font-size="9.50">sh<tspan font-style="italic">SMIM4</tspan> #2</text>
<line x1="549.70" y1="779.80" x2="552.30" y2="779.80" stroke="#333" stroke-width="0.9"/>
<line x1="568.80" y1="779.80" x2="571.40" y2="779.80" stroke="#333" stroke-width="0.9"/>
<text x="586.82" y="782.68" font-size="9.50">+</text>
<line x1="618.50" y1="779.80" x2="621.10" y2="779.80" stroke="#333" stroke-width="0.9"/>
<line x1="637.00" y1="779.80" x2="639.60" y2="779.80" stroke="#333" stroke-width="0.9"/>
<text x="655.02" y="782.68" font-size="9.50">+</text>
<text x="181.22" y="12.24" font-size="13.60" font-weight="bold">B</text>
<line x1="217.50" y1="32.00" x2="217.50" y2="157.00" stroke="#555" stroke-width="1.0"/>
<line x1="217.00" y1="156.50" x2="494.80" y2="156.50" stroke="#333" stroke-width="1.0"/>
<line x1="213.20" y1="156.50" x2="217.50" y2="156.50" stroke="#555" stroke-width="1.0"/>
<text x="198.60" y="159.51" font-size="9.30">0.0</text>
<line x1="213.20" y1="131.50" x2="217.50" y2="131.50" stroke="#555" stroke-width="1.0"/>
<text x="198.64" y="134.71" font-size="9.30">0.5</text>
<line x1="213.20" y1="106.50" x2="217.50" y2="106.50" stroke="#555" stroke-width="1.0"/>
<text x="198.60" y="109.91" font-size="9.30">1.0</text>
<line x1="213.20" y1="81.50" x2="217.50" y2="81.50" stroke="#555" stroke-width="1.0"/>
<text x="198.64" y="85.06" font-size="9.30">1.5</text>
<line x1="213.20" y1="57.50" x2="217.50" y2="57.50" stroke="#555" stroke-width="1.0"/>
<text x="198.60" y="60.31" font-size="9.30">2.0</text>
<line x1="213.20" y1="32.50" x2="217.50" y2="32.50" stroke="#555" stroke-width="1.0"/>
<text x="198.64" y="35.51" font-size="9.30">2.5</text>
<rect x="223.50" y="107.50" width="9.00" height="48.50" fill="#838383" stroke="#262626" stroke-width="1.0"/>
<rect x="258.50" y="107.50" width="9.00" height="48.50" fill="#838383" stroke="#262626" stroke-width="1.0"/>
<rect x="292.50" y="107.50" width="9.00" height="48.50" fill="#838383" stroke="#262626" stroke-width="1.0"/>
<rect x="326.50" y="107.50" width="9.00" height="48.50" fill="#838383" stroke="#262626" stroke-width="1.0"/>
<rect x="360.50" y="107.50" width="10.00" height="48.50" fill="#838383" stroke="#262626" stroke-width="1.0"/>
<rect x="395.50" y="107.50" width="10.00" height="48.50" fill="#838383" stroke="#262626" stroke-width="1.0"/>
<rect x="429.50" y="107.50" width="10.00" height="48.50" fill="#838383" stroke="#262626" stroke-width="1.0"/>
<rect x="464.50" y="107.50" width="10.00" height="48.50" fill="#838383" stroke="#262626" stroke-width="1.0"/>
<circle cx="224.80" cy="106.70" r="1.70" fill="#fff" stroke="#262626" stroke-width="0.75"/>
<circle cx="228.05" cy="106.70" r="1.70" fill="#fff" stroke="#262626" stroke-width="0.75"/>
<circle cx="231.30" cy="106.70" r="1.70" fill="#fff" stroke="#262626" stroke-width="0.75"/>
<circle cx="259.60" cy="106.70" r="1.70" fill="#fff" stroke="#262626" stroke-width="0.75"/>
<circle cx="262.85" cy="106.70" r="1.70" fill="#fff" stroke="#262626" stroke-width="0.75"/>
<circle cx="266.10" cy="106.70" r="1.70" fill="#fff" stroke="#262626" stroke-width="0.75"/>
<circle cx="293.90" cy="106.70" r="1.70" fill="#fff" stroke="#262626" stroke-width="0.75"/>
<circle cx="297.15" cy="106.70" r="1.70" fill="#fff" stroke="#262626" stroke-width="0.75"/>
<circle cx="300.40" cy="106.70" r="1.70" fill="#fff" stroke="#262626" stroke-width="0.75"/>
<circle cx="328.00" cy="106.70" r="1.70" fill="#fff" stroke="#262626" stroke-width="0.75"/>
<circle cx="331.25" cy="106.70" r="1.70" fill="#fff" stroke="#262626" stroke-width="0.75"/>
<circle cx="334.50" cy="106.70" r="1.70" fill="#fff" stroke="#262626" stroke-width="0.75"/>
<circle cx="362.30" cy="106.70" r="1.70" fill="#fff" stroke="#262626" stroke-width="0.75"/>
<circle cx="365.55" cy="106.70" r="1.70" fill="#fff" stroke="#262626" stroke-width="0.75"/>
<circle cx="368.80" cy="106.70" r="1.70" fill="#fff" stroke="#262626" stroke-width="0.75"/>
<circle cx="397.30" cy="106.70" r="1.70" fill="#fff" stroke="#262626" stroke-width="0.75"/>
<circle cx="400.55" cy="106.70" r="1.70" fill="#fff" stroke="#262626" stroke-width="0.75"/>
<circle cx="403.80" cy="106.70" r="1.70" fill="#fff" stroke="#262626" stroke-width="0.75"/>
<circle cx="431.40" cy="106.70" r="1.70" fill="#fff" stroke="#262626" stroke-width="0.75"/>
<circle cx="434.65" cy="106.70" r="1.70" fill="#fff" stroke="#262626" stroke-width="0.75"/>
<circle cx="437.90" cy="106.70" r="1.70" fill="#fff" stroke="#262626" stroke-width="0.75"/>
<circle cx="466.10" cy="106.70" r="1.70" fill="#fff" stroke="#262626" stroke-width="0.75"/>
<circle cx="469.35" cy="106.70" r="1.70" fill="#fff" stroke="#262626" stroke-width="0.75"/>
<circle cx="472.60" cy="106.70" r="1.70" fill="#fff" stroke="#262626" stroke-width="0.75"/>
<rect x="238.50" y="133.50" width="9.00" height="22.50" fill="#2f5282" stroke="#262626" stroke-width="1.0"/>
<rect x="272.50" y="108.50" width="10.00" height="47.50" fill="#2f5282" stroke="#262626" stroke-width="1.0"/>
<rect x="307.50" y="87.50" width="9.00" height="68.50" fill="#2f5282" stroke="#262626" stroke-width="1.0"/>
<rect x="341.50" y="96.50" width="9.00" height="59.50" fill="#2f5282" stroke="#262626" stroke-width="1.0"/>
<rect x="375.50" y="116.50" width="9.00" height="39.50" fill="#2f5282" stroke="#262626" stroke-width="1.0"/>
<rect x="410.50" y="98.50" width="9.00" height="57.50" fill="#2f5282" stroke="#262626" stroke-width="1.0"/>
<rect x="444.50" y="103.50" width="9.00" height="52.50" fill="#2f5282" stroke="#262626" stroke-width="1.0"/>
<rect x="479.50" y="82.50" width="9.00" height="73.50" fill="#2f5282" stroke="#262626" stroke-width="1.0"/>
<line x1="243.30" y1="127.04" x2="243.30" y2="138.94" stroke="#1a1a1a" stroke-width="0.9"/>
<line x1="240.30" y1="127.04" x2="246.30" y2="127.04" stroke="#1a1a1a" stroke-width="0.9"/>
<line x1="240.30" y1="138.94" x2="246.30" y2="138.94" stroke="#1a1a1a" stroke-width="0.9"/>
<circle cx="243.00" cy="103.72" r="1.70" fill="#fff" stroke="#262626" stroke-width="0.75"/>
<circle cx="239.50" cy="129.52" r="1.70" fill="#fff" stroke="#262626" stroke-width="0.75"/>
<circle cx="245.60" cy="129.52" r="1.70" fill="#fff" stroke="#262626" stroke-width="0.75"/>
<circle cx="239.50" cy="140.92" r="1.70" fill="#fff" stroke="#262626" stroke-width="0.75"/>
<circle cx="246.20" cy="143.90" r="1.70" fill="#fff" stroke="#262626" stroke-width="0.75"/>
<circle cx="239.50" cy="145.39" r="1.70" fill="#fff" stroke="#262626" stroke-width="0.75"/>
<line x1="277.50" y1="99.26" x2="277.50" y2="117.12" stroke="#1a1a1a" stroke-width="0.9"/>
<line x1="274.50" y1="99.26" x2="280.50" y2="99.26" stroke="#1a1a1a" stroke-width="0.9"/>
<line x1="274.50" y1="117.12" x2="280.50" y2="117.12" stroke="#1a1a1a" stroke-width="0.9"/>
<circle cx="277.50" cy="66.03" r="1.70" fill="#fff" stroke="#262626" stroke-width="0.75"/>
<circle cx="277.50" cy="101.74" r="1.70" fill="#fff" stroke="#262626" stroke-width="0.75"/>
<circle cx="273.70" cy="115.13" r="1.70" fill="#fff" stroke="#262626" stroke-width="0.75"/>
<circle cx="280.90" cy="114.14" r="1.70" fill="#fff" stroke="#262626" stroke-width="0.75"/>
<circle cx="277.50" cy="122.57" r="1.70" fill="#fff" stroke="#262626" stroke-width="0.75"/>
<circle cx="277.50" cy="128.03" r="1.70" fill="#fff" stroke="#262626" stroke-width="0.75"/>
<line x1="311.70" y1="80.41" x2="311.70" y2="94.30" stroke="#1a1a1a" stroke-width="0.9"/>
<line x1="308.70" y1="80.41" x2="314.70" y2="80.41" stroke="#1a1a1a" stroke-width="0.9"/>
<line x1="308.70" y1="94.30" x2="314.70" y2="94.30" stroke="#1a1a1a" stroke-width="0.9"/>
<circle cx="311.70" cy="61.07" r="1.70" fill="#fff" stroke="#262626" stroke-width="0.75"/>
<circle cx="308.00" cy="82.89" r="1.70" fill="#fff" stroke="#262626" stroke-width="0.75"/>
<circle cx="310.70" cy="81.90" r="1.70" fill="#fff" stroke="#262626" stroke-width="0.75"/>
<circle cx="315.20" cy="84.38" r="1.70" fill="#fff" stroke="#262626" stroke-width="0.75"/>
<circle cx="311.70" cy="98.76" r="1.70" fill="#fff" stroke="#262626" stroke-width="0.75"/>
<circle cx="311.70" cy="109.68" r="1.70" fill="#fff" stroke="#262626" stroke-width="0.75"/>
<line x1="346.00" y1="93.06" x2="346.00" y2="99.01" stroke="#1a1a1a" stroke-width="0.9"/>
<line x1="343.00" y1="93.06" x2="349.00" y2="93.06" stroke="#1a1a1a" stroke-width="0.9"/>
<line x1="343.00" y1="99.01" x2="349.00" y2="99.01" stroke="#1a1a1a" stroke-width="0.9"/>
<circle cx="345.80" cy="81.40" r="1.70" fill="#fff" stroke="#262626" stroke-width="0.75"/>
<circle cx="345.80" cy="93.80" r="1.70" fill="#fff" stroke="#262626" stroke-width="0.75"/>
<circle cx="342.70" cy="96.78" r="1.70" fill="#fff" stroke="#262626" stroke-width="0.75"/>
<circle cx="349.50" cy="97.77" r="1.70" fill="#fff" stroke="#262626" stroke-width="0.75"/>
<circle cx="345.80" cy="101.74" r="1.70" fill="#fff" stroke="#262626" stroke-width="0.75"/>
<circle cx="345.80" cy="107.69" r="1.70" fill="#fff" stroke="#262626" stroke-width="0.75"/>
<line x1="380.10" y1="113.15" x2="380.10" y2="118.11" stroke="#1a1a1a" stroke-width="0.9"/>
<line x1="377.10" y1="113.15" x2="383.10" y2="113.15" stroke="#1a1a1a" stroke-width="0.9"/>
<line x1="377.10" y1="118.11" x2="383.10" y2="118.11" stroke="#1a1a1a" stroke-width="0.9"/>
<circle cx="377.10" cy="107.69" r="1.70" fill="#fff" stroke="#262626" stroke-width="0.75"/>
<circle cx="383.80" cy="107.69" r="1.70" fill="#fff" stroke="#262626" stroke-width="0.75"/>
<circle cx="380.10" cy="112.16" r="1.70" fill="#fff" stroke="#262626" stroke-width="0.75"/>
<circle cx="377.70" cy="120.09" r="1.70" fill="#fff" stroke="#262626" stroke-width="0.75"/>
<circle cx="383.80" cy="121.58" r="1.70" fill="#fff" stroke="#262626" stroke-width="0.75"/>
<circle cx="377.70" cy="123.56" r="1.70" fill="#fff" stroke="#262626" stroke-width="0.75"/>
<line x1="415.20" y1="91.32" x2="415.20" y2="105.21" stroke="#1a1a1a" stroke-width="0.9"/>
<line x1="412.20" y1="91.32" x2="418.20" y2="91.32" stroke="#1a1a1a" stroke-width="0.9"/>
<line x1="412.20" y1="105.21" x2="418.20" y2="105.21" stroke="#1a1a1a" stroke-width="0.9"/>
<circle cx="415.00" cy="66.03" r="1.70" fill="#fff" stroke="#262626" stroke-width="0.75"/>
<circle cx="411.90" cy="97.77" r="1.70" fill="#fff" stroke="#262626" stroke-width="0.75"/>
<circle cx="418.60" cy="99.76" r="1.70" fill="#fff" stroke="#262626" stroke-width="0.75"/>
<circle cx="411.90" cy="105.21" r="1.70" fill="#fff" stroke="#262626" stroke-width="0.75"/>
<circle cx="418.00" cy="108.68" r="1.70" fill="#fff" stroke="#262626" stroke-width="0.75"/>
<circle cx="415.00" cy="113.64" r="1.70" fill="#fff" stroke="#262626" stroke-width="0.75"/>
<line x1="449.40" y1="98.27" x2="449.40" y2="107.20" stroke="#1a1a1a" stroke-width="0.9"/>
<line x1="446.40" y1="98.27" x2="452.40" y2="98.27" stroke="#1a1a1a" stroke-width="0.9"/>
<line x1="446.40" y1="107.20" x2="452.40" y2="107.20" stroke="#1a1a1a" stroke-width="0.9"/>
<circle cx="449.60" cy="85.37" r="1.70" fill="#fff" stroke="#262626" stroke-width="0.75"/>
<circle cx="449.60" cy="92.81" r="1.70" fill="#fff" stroke="#262626" stroke-width="0.75"/>
<circle cx="446.10" cy="107.20" r="1.70" fill="#fff" stroke="#262626" stroke-width="0.75"/>
<circle cx="452.50" cy="105.21" r="1.70" fill="#fff" stroke="#262626" stroke-width="0.75"/>
<circle cx="452.50" cy="111.16" r="1.70" fill="#fff" stroke="#262626" stroke-width="0.75"/>
<circle cx="446.40" cy="114.14" r="1.70" fill="#fff" stroke="#262626" stroke-width="0.75"/>
<line x1="484.10" y1="75.95" x2="484.10" y2="87.85" stroke="#1a1a1a" stroke-width="0.9"/>
<line x1="481.10" y1="75.95" x2="487.10" y2="75.95" stroke="#1a1a1a" stroke-width="0.9"/>
<line x1="481.10" y1="87.85" x2="487.10" y2="87.85" stroke="#1a1a1a" stroke-width="0.9"/>
<circle cx="480.60" cy="67.52" r="1.70" fill="#fff" stroke="#262626" stroke-width="0.75"/>
<circle cx="487.20" cy="66.52" r="1.70" fill="#fff" stroke="#262626" stroke-width="0.75"/>
<circle cx="484.10" cy="77.93" r="1.70" fill="#fff" stroke="#262626" stroke-width="0.75"/>
<circle cx="480.60" cy="85.37" r="1.70" fill="#fff" stroke="#262626" stroke-width="0.75"/>
<circle cx="487.20" cy="86.86" r="1.70" fill="#fff" stroke="#262626" stroke-width="0.75"/>
<circle cx="484.10" cy="105.71" r="1.70" fill="#fff" stroke="#262626" stroke-width="0.75"/>
<line x1="235.40" y1="156.30" x2="235.40" y2="161.00" stroke="#333" stroke-width="1.0"/>
<text x="226.00" y="170.99" font-size="9.40">G6P</text>
<line x1="270.00" y1="156.30" x2="270.00" y2="161.00" stroke="#333" stroke-width="1.0"/>
<text x="260.74" y="170.99" font-size="9.40">3PG</text>
<line x1="304.50" y1="156.30" x2="304.50" y2="161.00" stroke="#333" stroke-width="1.0"/>
<text x="290.92" y="171.11" font-size="9.40">Serine</text>
<line x1="338.70" y1="156.30" x2="338.70" y2="161.00" stroke="#333" stroke-width="1.0"/>
<text x="324.44" y="171.11" font-size="9.40">Malate</text>
<line x1="373.00" y1="156.30" x2="373.00" y2="161.00" stroke="#333" stroke-width="1.0"/>
<text x="359.13" y="171.11" font-size="9.40">Citrate</text>
<line x1="407.50" y1="156.30" x2="407.50" y2="161.00" stroke="#333" stroke-width="1.0"/>
<text x="398.15" y="170.99" font-size="9.40">αKG</text>
<line x1="441.70" y1="156.30" x2="441.70" y2="161.00" stroke="#333" stroke-width="1.0"/>
<text x="433.80" y="170.94" font-size="9.40">Asp</text>
<line x1="476.20" y1="156.30" x2="476.20" y2="161.00" stroke="#333" stroke-width="1.0"/>
<text x="451.24" y="171.11" font-size="9.40">GSH/GSSG</text>
<text x="218.04" y="93.60" font-size="8.70"><tspan font-style="italic">P</tspan> = 0.0025</text>
<line x1="229.10" y1="97.50" x2="242.40" y2="97.50" stroke="#3a3a3a" stroke-width="1.0"/>
<text x="265.92" y="54.28" font-size="9.00">ns</text>
<line x1="264.60" y1="60.50" x2="277.90" y2="60.50" stroke="#3a3a3a" stroke-width="1.0"/>
<text x="284.74" y="51.55" font-size="8.55"><tspan font-style="italic">P</tspan> = 0.0158</text>
<line x1="299.40" y1="55.50" x2="312.30" y2="55.50" stroke="#3a3a3a" stroke-width="1.0"/>
<text x="319.64" y="71.34" font-size="8.52"><tspan font-style="italic">P</tspan> = 0.0131</text>
<line x1="333.50" y1="75.50" x2="346.40" y2="75.50" stroke="#3a3a3a" stroke-width="1.0"/>
<text x="355.35" y="93.91" font-size="8.44"><tspan font-style="italic">P</tspan> =0.0194</text>
<line x1="367.90" y1="98.50" x2="380.60" y2="98.50" stroke="#3a3a3a" stroke-width="1.0"/>
<text x="404.12" y="53.09" font-size="9.00">ns</text>
<line x1="401.90" y1="58.50" x2="416.00" y2="58.50" stroke="#3a3a3a" stroke-width="1.0"/>
<text x="438.52" y="72.39" font-size="9.00">ns</text>
<line x1="436.40" y1="77.50" x2="450.40" y2="77.50" stroke="#3a3a3a" stroke-width="1.0"/>
<text x="460.14" y="56.54" font-size="8.53"><tspan font-style="italic">P</tspan> = 0.0017</text>
<line x1="473.20" y1="61.50" x2="486.40" y2="61.50" stroke="#3a3a3a" stroke-width="1.0"/>
<text x="192.88" y="155.93" font-size="10.41" transform="rotate(-90 192.88 155.93)">Fold change (MIA PaCa-2)</text>
<rect x="222.50" y="24.50" width="12.00" height="5.50" fill="#838383" stroke="#262626" stroke-width="1.0"/>
<rect x="222.50" y="34.50" width="12.00" height="4.50" fill="#2f5282" stroke="#262626" stroke-width="1.0"/>
<text x="242.41" y="30.00" font-size="9.66">shCtrl</text>
<text x="242.41" y="39.80" font-size="9.60">sh<tspan font-style="italic">SMIM4</tspan></text>
<text x="254.02" y="814.59" font-size="13.60" font-weight="bold">N</text>
<line x1="307.50" y1="844.00" x2="307.50" y2="966.00" stroke="#555" stroke-width="1.0"/>
<line x1="307.00" y1="965.50" x2="406.00" y2="965.50" stroke="#333" stroke-width="1.0"/>
<line x1="303.30" y1="965.50" x2="307.50" y2="965.50" stroke="#555" stroke-width="1.0"/>
<text x="288.02" y="969.18" font-size="9.80">0.0</text>
<line x1="303.30" y1="941.50" x2="307.50" y2="941.50" stroke="#555" stroke-width="1.0"/>
<text x="288.07" y="944.98" font-size="9.80">0.5</text>
<line x1="303.30" y1="917.50" x2="307.50" y2="917.50" stroke="#555" stroke-width="1.0"/>
<text x="288.02" y="920.78" font-size="9.80">1.0</text>
<line x1="303.30" y1="893.50" x2="307.50" y2="893.50" stroke="#555" stroke-width="1.0"/>
<text x="288.07" y="896.53" font-size="9.80">1.5</text>
<line x1="303.30" y1="869.50" x2="307.50" y2="869.50" stroke="#555" stroke-width="1.0"/>
<text x="288.02" y="872.38" font-size="9.80">2.0</text>
<line x1="303.30" y1="844.50" x2="307.50" y2="844.50" stroke="#555" stroke-width="1.0"/>
<text x="288.07" y="848.18" font-size="9.80">2.5</text>
<rect x="315.50" y="917.50" width="14.00" height="48.50" fill="#838383" stroke="#262626" stroke-width="1.0"/>
<rect x="338.50" y="885.50" width="14.00" height="80.50" fill="#2f5282" stroke="#262626" stroke-width="1.0"/>
<rect x="360.50" y="887.50" width="14.00" height="78.50" fill="#a3a2a7" stroke="#262626" stroke-width="1.0"/>
<rect x="382.50" y="883.50" width="14.00" height="82.50" fill="#7fa2c9" stroke="#262626" stroke-width="1.0"/>
<circle cx="318.00" cy="917.40" r="1.90" fill="#fff" stroke="#262626" stroke-width="0.75"/>
<circle cx="320.60" cy="917.40" r="1.90" fill="#fff" stroke="#262626" stroke-width="0.75"/>
<circle cx="323.20" cy="917.40" r="1.90" fill="#fff" stroke="#262626" stroke-width="0.75"/>
<circle cx="325.80" cy="917.40" r="1.90" fill="#fff" stroke="#262626" stroke-width="0.75"/>
<circle cx="328.40" cy="917.40" r="1.90" fill="#fff" stroke="#262626" stroke-width="0.75"/>
<line x1="345.50" y1="881.58" x2="345.50" y2="889.33" stroke="#1a1a1a" stroke-width="0.9"/>
<line x1="342.30" y1="881.58" x2="348.70" y2="881.58" stroke="#1a1a1a" stroke-width="0.9"/>
<line x1="342.30" y1="889.33" x2="348.70" y2="889.33" stroke="#1a1a1a" stroke-width="0.9"/>
<circle cx="345.30" cy="871.42" r="1.90" fill="#fff" stroke="#262626" stroke-width="0.75"/>
<circle cx="339.20" cy="883.04" r="1.90" fill="#fff" stroke="#262626" stroke-width="0.75"/>
<circle cx="345.30" cy="883.52" r="1.90" fill="#fff" stroke="#262626" stroke-width="0.75"/>
<circle cx="350.90" cy="883.04" r="1.90" fill="#fff" stroke="#262626" stroke-width="0.75"/>
<circle cx="345.30" cy="897.56" r="1.90" fill="#fff" stroke="#262626" stroke-width="0.75"/>
<line x1="367.80" y1="874.81" x2="367.80" y2="899.98" stroke="#1a1a1a" stroke-width="0.9"/>
<line x1="364.60" y1="874.81" x2="371.00" y2="874.81" stroke="#1a1a1a" stroke-width="0.9"/>
<line x1="364.60" y1="899.98" x2="371.00" y2="899.98" stroke="#1a1a1a" stroke-width="0.9"/>
<circle cx="368.00" cy="869.48" r="1.90" fill="#fff" stroke="#262626" stroke-width="0.75"/>
<circle cx="368.00" cy="880.13" r="1.90" fill="#fff" stroke="#262626" stroke-width="0.75"/>
<circle cx="368.00" cy="894.17" r="1.90" fill="#fff" stroke="#262626" stroke-width="0.75"/>
<circle cx="368.00" cy="899.01" r="1.90" fill="#fff" stroke="#262626" stroke-width="0.75"/>
<circle cx="368.00" cy="902.88" r="1.90" fill="#fff" stroke="#262626" stroke-width="0.75"/>
<line x1="389.90" y1="863.19" x2="389.90" y2="901.91" stroke="#1a1a1a" stroke-width="0.9"/>
<line x1="386.70" y1="863.19" x2="393.10" y2="863.19" stroke="#1a1a1a" stroke-width="0.9"/>
<line x1="386.70" y1="901.91" x2="393.10" y2="901.91" stroke="#1a1a1a" stroke-width="0.9"/>
<circle cx="390.20" cy="860.29" r="1.90" fill="#fff" stroke="#262626" stroke-width="0.75"/>
<circle cx="390.20" cy="862.71" r="1.90" fill="#fff" stroke="#262626" stroke-width="0.75"/>
<circle cx="390.20" cy="886.42" r="1.90" fill="#fff" stroke="#262626" stroke-width="0.75"/>
<circle cx="390.20" cy="895.62" r="1.90" fill="#fff" stroke="#262626" stroke-width="0.75"/>
<circle cx="390.20" cy="905.30" r="1.90" fill="#fff" stroke="#262626" stroke-width="0.75"/>
<line x1="356.30" y1="965.80" x2="356.30" y2="969.60" stroke="#333" stroke-width="1.0"/>
<text x="331.33" y="979.07" font-size="9.31">GSH/GSSG</text>
<text x="310.95" y="856.19" font-size="8.39"><tspan font-style="italic">P</tspan> = 5.33E-05</text>
<line x1="325.20" y1="861.50" x2="345.80" y2="861.50" stroke="#3a3a3a" stroke-width="1.0"/>
<text x="373.62" y="844.88" font-size="9.00">ns</text>
<line x1="368.00" y1="849.50" x2="389.70" y2="849.50" stroke="#3a3a3a" stroke-width="1.0"/>
<text x="282.52" y="965.52" font-size="10.19" transform="rotate(-90 282.52 965.52)">Fold change (MIA PaCa-2)</text>
<rect x="414.50" y="843.50" width="13.00" height="4.50" fill="#838383" stroke="#262626" stroke-width="1.0"/>
<text x="434.92" y="849.30" font-size="9.20">shCtrl</text>
<rect x="414.50" y="853.50" width="13.00" height="4.50" fill="#2f5282" stroke="#262626" stroke-width="1.0"/>
<text x="434.92" y="858.90" font-size="9.20">sh<tspan font-style="italic">SMIM4</tspan></text>
<rect x="414.50" y="863.50" width="13.00" height="3.50" fill="#a3a2a7" stroke="#262626" stroke-width="1.0"/>
<text x="434.92" y="868.50" font-size="9.20">shCtrl+Malate</text>
<rect x="414.50" y="872.50" width="13.00" height="4.50" fill="#7fa2c9" stroke="#262626" stroke-width="1.0"/>
<text x="434.92" y="878.20" font-size="9.20">sh<tspan font-style="italic">SMIM4</tspan>+Malate</text>
<text x="5.92" y="813.69" font-size="13.60" font-weight="bold">M</text>
<text x="57.90" y="831.12" font-size="7.51">Hits/Total Cmpd</text>
<text x="121.37" y="831.09" font-size="7.43">-lg Normalized <tspan font-style="italic">P</tspan></text>
<circle cx="65.20" cy="840.50" r="1.40" fill="#000" stroke="#000" stroke-width="0.3"/>
<text x="73.02" y="842.09" font-size="4.60">0.40</text>
<circle cx="65.20" cy="850.40" r="3.30" fill="#000" stroke="#000" stroke-width="0.3"/>
<text x="73.02" y="851.99" font-size="4.60">0.60</text>
<circle cx="65.20" cy="862.10" r="4.30" fill="#000" stroke="#000" stroke-width="0.3"/>
<text x="73.02" y="863.69" font-size="4.60">0.80</text>
<defs><linearGradient id="cb" x1="0" y1="0" x2="0" y2="1"><stop offset="0" stop-color="#2f5690"/><stop offset="0.5" stop-color="#8eaad4"/><stop offset="1" stop-color="#f4f8fd"/></linearGradient></defs>
<rect x="122.30" y="836.30" width="7.40" height="26.70" fill="url(#cb)" stroke="#333" stroke-width="0.6"/>
<line x1="122.10" y1="839.00" x2="124.30" y2="839.00" stroke="#222" stroke-width="0.6"/>
<line x1="127.40" y1="839.00" x2="129.70" y2="839.00" stroke="#222" stroke-width="0.6"/>
<line x1="129.70" y1="839.00" x2="131.00" y2="839.00" stroke="#333" stroke-width="0.6"/>
<text x="132.20" y="841.07" font-size="6.00">6</text>
<line x1="122.10" y1="847.30" x2="124.30" y2="847.30" stroke="#222" stroke-width="0.6"/>
<line x1="127.40" y1="847.30" x2="129.70" y2="847.30" stroke="#222" stroke-width="0.6"/>
<line x1="129.70" y1="847.30" x2="131.00" y2="847.30" stroke="#333" stroke-width="0.6"/>
<text x="132.38" y="849.37" font-size="6.00">4</text>
<line x1="122.10" y1="855.30" x2="124.30" y2="855.30" stroke="#222" stroke-width="0.6"/>
<line x1="127.40" y1="855.30" x2="129.70" y2="855.30" stroke="#222" stroke-width="0.6"/>
<line x1="129.70" y1="855.30" x2="131.00" y2="855.30" stroke="#333" stroke-width="0.6"/>
<text x="132.20" y="857.40" font-size="6.00">2</text>
<line x1="129.70" y1="863.30" x2="131.00" y2="863.30" stroke="#333" stroke-width="0.6"/>
<text x="132.26" y="865.37" font-size="6.00">0</text>
<rect x="0.9" y="866.2" width="170.4" height="26.2" rx="4.5" ry="4.5" fill="none" stroke="#3f619a" stroke-width="1.1"/>
<rect x="173.50" y="859.50" width="75.00" height="114.50" fill="none" stroke="#333" stroke-width="1.0"/>
<text x="82.14" y="876.26" font-size="8.45">Glutathione metabolism</text>
<text x="1.36" y="890.46" font-size="8.45">Alanine, aspartate and glutamate metabolism</text>
<text x="50.20" y="904.66" font-size="8.45">Arginine and proline metabolism</text>
<text x="34.69" y="919.06" font-size="8.45">Taurine and hypotaurine metabolism</text>
<text x="84.67" y="933.46" font-size="8.45">Vitamin B6 metabolism</text>
<text x="46.80" y="947.76" font-size="8.45">Arginine and proline metabolism</text>
<text x="88.27" y="962.16" font-size="8.45">Riboflavin metabolism</text>
<circle cx="198.10" cy="873.20" r="2.90" fill="#c7dbf2" stroke="#8a8a8a" stroke-width="0.6"/>
<circle cx="223.40" cy="873.20" r="2.80" fill="#ffffff" stroke="#8a8a8a" stroke-width="0.6"/>
<circle cx="198.10" cy="887.40" r="3.10" fill="#91b1da" stroke="#8a8a8a" stroke-width="0.6"/>
<circle cx="223.40" cy="887.40" r="3.30" fill="#ffffff" stroke="#8a8a8a" stroke-width="0.6"/>
<circle cx="198.10" cy="901.60" r="2.60" fill="#2c4f82" stroke="#8a8a8a" stroke-width="0.6"/>
<circle cx="223.40" cy="901.60" r="2.60" fill="#6f8fbf" stroke="#8a8a8a" stroke-width="0.6"/>
<circle cx="198.10" cy="916.00" r="3.20" fill="#2e5386" stroke="#8a8a8a" stroke-width="0.6"/>
<circle cx="223.40" cy="916.00" r="3.30" fill="#6a8abc" stroke="#8a8a8a" stroke-width="0.6"/>
<circle cx="198.10" cy="930.40" r="3.70" fill="#e2edf9" stroke="#8a8a8a" stroke-width="0.6"/>
<circle cx="223.40" cy="930.40" r="2.60" fill="#d2e2f5" stroke="#8a8a8a" stroke-width="0.6"/>
<circle cx="198.10" cy="944.70" r="4.30" fill="#8eaad2" stroke="#8a8a8a" stroke-width="0.6"/>
<circle cx="223.40" cy="944.70" r="2.60" fill="#5b7db3" stroke="#8a8a8a" stroke-width="0.6"/>
<circle cx="198.10" cy="959.10" r="4.60" fill="#dfeaf8" stroke="#8a8a8a" stroke-width="0.6"/>
<circle cx="223.40" cy="959.10" r="4.30" fill="#c5d9f1" stroke="#8a8a8a" stroke-width="0.6"/>
<text x="191.40" y="851.80" font-size="7.3" transform="rotate(-45 191.40 851.80)">SMIM4 KD</text>
<text x="198.60" y="857.70" font-size="7.3" transform="rotate(-45 198.60 857.70)">vs Ctrl</text>
<text x="214.80" y="851.80" font-size="7.3" transform="rotate(-45 214.80 851.80)">SMIM4 KD+Mal</text>
<text x="222.40" y="857.90" font-size="7.3" transform="rotate(-45 222.40 857.90)">vs Ctrl+Mal</text>
<text x="6.95" y="10.90" font-size="14.20" font-weight="bold">A</text>
<text x="23.88" y="13.60" font-size="10.50" font-weight="bold">Glucose</text>
<text x="20.08" y="182.40" font-size="10.50" font-weight="bold">Glutamine</text>
<text x="36.27" y="50.30" font-size="10.60">G6P</text>
<text x="99.95" y="50.10" font-size="10.60">R5P</text>
<text x="111.20" y="63.80" font-size="10.60">10-FormylTHF</text>
<text x="35.08" y="84.70" font-size="10.60">3PG</text>
<text x="81.92" y="84.60" font-size="10.60">Ser</text>
<text x="26.65" y="115.70" font-size="10.60">Pyruvate</text>
<text x="126.85" y="115.80" font-size="10.60">Malate</text>
<text x="23.27" y="151.00" font-size="10.60">Citrate</text>
<text x="103.78" y="150.90" font-size="10.60">αKG</text>
<text x="131.12" y="150.90" font-size="10.60">OAA</text>
<text x="135.80" y="182.30" font-size="10.60">Asp</text>
<text x="49.22" y="35.33" font-size="6.00" fill="#222">NADP<tspan font-size="4.32" dy="-2.16">+</tspan></text>
<text x="77.52" y="35.07" font-size="6.00" fill="#222">NADPH</text>
<text x="91.52" y="90.33" font-size="6.00" fill="#222">NADP<tspan font-size="4.32" dy="-2.16">+</tspan></text>
<text x="123.52" y="90.07" font-size="6.00" fill="#222">NADPH</text>
<text x="68.92" y="101.77" font-size="6.00" fill="#222">NADPH</text>
<text x="99.52" y="102.03" font-size="6.00" fill="#222">NADP<tspan font-size="4.32" dy="-2.16">+</tspan></text>
<text x="53.42" y="137.12" font-size="6.00" fill="#222">NADP<tspan font-size="4.32" dy="-2.16">+</tspan></text>
<text x="77.52" y="136.87" font-size="6.00" fill="#222">NADPH</text>
<line x1="43.40" y1="19.00" x2="43.40" y2="33.90" stroke="#000" stroke-width="1.0"/>
<path d="M43.40,38.60 L40.75,33.40 L46.05,33.40 Z" fill="#000" stroke="none"/>
<line x1="57.90" y1="45.30" x2="90.30" y2="45.30" stroke="#000" stroke-width="1.0"/>
<path d="M95.00,45.30 L89.80,47.95 L89.80,42.65 Z" fill="#000" stroke="none"/>
<path d="M63,39.3 Q72,47.5 83.2,41.3" fill="none" stroke="#111" stroke-width="0.8"/>
<path d="M86.00,38.80 L83.98,44.01 L80.62,40.31 Z" fill="#000" stroke="none"/>
<line x1="43.40" y1="53.00" x2="43.40" y2="68.10" stroke="#000" stroke-width="1.0" stroke-dasharray="3.4,2.6"/>
<path d="M43.40,72.40 L40.75,67.60 L46.05,67.60 Z" fill="#000" stroke="none"/>
<line x1="57.80" y1="80.30" x2="74.60" y2="80.30" stroke="#000" stroke-width="1.0" stroke-dasharray="3,2.2"/>
<path d="M78.90,80.30 L74.10,82.95 L74.10,77.65 Z" fill="#000" stroke="none"/>
<path d="M102.2,81.2 C114,80.2 127,77.5 135.5,69.5" fill="none" stroke="#111" stroke-width="1.0" stroke-dasharray="2.8,2"/>
<path d="M139.30,64.80 L137.88,70.67 L133.94,67.59 Z" fill="#000" stroke="none"/>
<path d="M107.9,83.6 Q114,77.8 121,78.6 Q125.5,79.2 128.6,79.5" fill="none" stroke="#111" stroke-width="0.9" stroke-dasharray="2.6,1.8"/>
<path d="M132.00,82.70 L126.48,80.86 L130.16,77.18 Z" fill="#000" stroke="none"/>
<line x1="43.20" y1="87.50" x2="43.20" y2="101.50" stroke="#000" stroke-width="1.0"/>
<path d="M43.20,106.20 L40.55,101.00 L45.85,101.00 Z" fill="#000" stroke="none"/>
<line x1="119.70" y1="112.50" x2="76.00" y2="112.50" stroke="#000" stroke-width="1.0"/>
<path d="M71.30,112.50 L76.50,109.85 L76.50,115.15 Z" fill="#000" stroke="none"/>
<path d="M107.7,106.2 Q103,112.8 95,111.8 Q90,111.2 87.6,108.8" fill="none" stroke="#111" stroke-width="0.8"/>
<path d="M85.10,106.00 L90.29,108.08 L86.55,111.40 Z" fill="#000" stroke="none"/>
<line x1="43.20" y1="119.50" x2="43.20" y2="133.30" stroke="#000" stroke-width="1.0" stroke-dasharray="3.4,2.6"/>
<path d="M43.20,137.60 L40.55,132.80 L45.85,132.80 Z" fill="#000" stroke="none"/>
<line x1="60.30" y1="147.10" x2="93.70" y2="147.10" stroke="#000" stroke-width="1.0" stroke-dasharray="3.2,2.0"/>
<path d="M98.00,147.10 L93.20,149.75 L93.20,144.45 Z" fill="#000" stroke="none"/>
<path d="M64.4,142.4 Q70,147.4 76.3,146.8 Q82,146.2 85.5,143.2" fill="none" stroke="#111" stroke-width="0.8" stroke-dasharray="2.4,1.6"/>
<path d="M87.90,140.90 L86.20,145.99 L82.81,142.60 Z" fill="#000" stroke="none"/>
<line x1="142.90" y1="141.00" x2="142.90" y2="124.00" stroke="#7a7a7a" stroke-width="1.0"/>
<path d="M142.90,118.40 L145.60,125.50 L140.20,125.50 Z" fill="#000" stroke="none"/>
<line x1="142.90" y1="174.60" x2="142.90" y2="157.60" stroke="#7a7a7a" stroke-width="1.0"/>
<path d="M142.90,151.60 L145.60,159.10 L140.20,159.10 Z" fill="#000" stroke="none"/>
<line x1="76.70" y1="179.00" x2="121.40" y2="179.00" stroke="#000" stroke-width="1.0" stroke-dasharray="3.6,2.6"/>
<path d="M126.10,179.00 L120.90,181.65 L120.90,176.35 Z" fill="#000" stroke="none"/>
</svg></body></html>
